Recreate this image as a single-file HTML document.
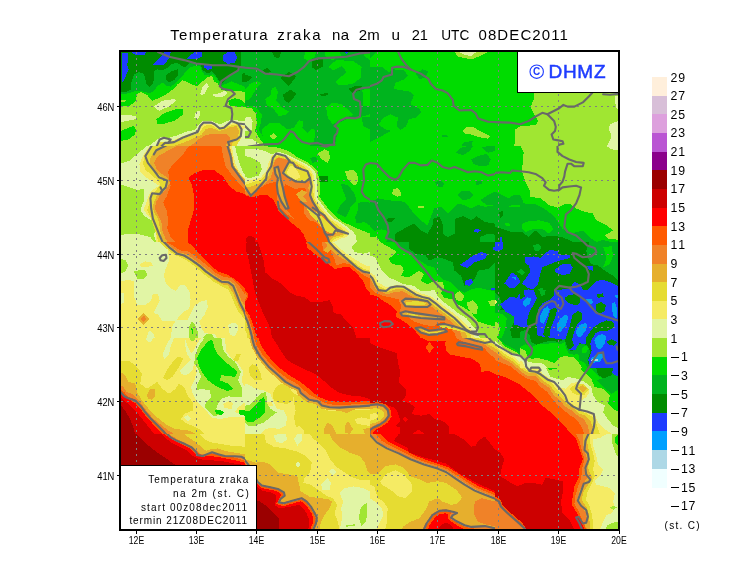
<!DOCTYPE html>
<html><head><meta charset="utf-8"><title>Temperatura zraka na 2m</title>
<style>
html,body{margin:0;padding:0;background:#fff;}
body{width:740px;height:582px;overflow:hidden;font-family:"Liberation Sans",sans-serif;}
svg{display:block;}
text{font-family:"Liberation Sans",sans-serif;fill:#000;}
</style></head><body>
<svg width="740" height="582" viewBox="0 0 740 582">
<rect x="0" y="0" width="740" height="582" fill="#fff"/>
<g shape-rendering="crispEdges">
<clipPath id="c0_0"><rect x="120" y="50" width="125" height="96"/></clipPath>
<g clip-path="url(#c0_0)">
<rect x="120" y="50" width="125" height="96" fill="#008c00"/>
<polygon points="121.7,52.7 128.1,52.7 128.1,60.1 127.1,65.2 128.6,69.4 124.4,79.2 121.7,83.8" fill="#1e3cff"/>
<polygon points="130.8,52.0 146.0,52.0 144.8,54.9 136.2,55.4" fill="#1e3cff"/>
<polygon points="153.4,64.5 160.5,56.8 164.3,52.0 170.7,52.0 170.0,56.8 164.3,64.5" fill="#1e3cff"/>
<polygon points="186.7,58.6 194.3,52.0 201.9,52.0 201.9,56.8 196.0,59.3" fill="#1e3cff"/>
<polygon points="203.6,64.4 211.2,65.2 212.1,68.6 207.8,69.9 204.5,67.7" fill="#1e3cff"/>
<polygon points="223.0,55.1 228.1,52.0 234.9,52.5 237.4,57.6 234.9,62.7 228.1,63.9 223.4,61.0" fill="#1e3cff"/>
<polygon points="120.0,92.2 126.4,91.6 130.8,90.0 131.3,82.4 134.0,74.8 138.4,72.1 143.3,73.3 145.3,78.0 146.0,83.4 149.2,86.8 153.4,83.4 154.1,71.6 156.8,69.4 163.2,69.9 167.6,67.9 171.9,64.0 177.3,62.5 181.7,66.2 184.9,67.2 189.3,63.0 193.5,61.8 200.1,64.0 202.8,70.3 207.8,73.6 212.1,71.1 215.4,75.3 219.7,81.2 221.4,84.6 229.8,76.2 238.2,70.6 240.9,66.9 241.3,52.0 245.0,52.0 245.0,145.9 120.0,145.9" fill="#00b41e"/>
<polygon points="242.0,73.6 245.0,73.1 245.0,82.1 242.0,82.1" fill="#008c00"/>
<polygon points="166.5,74.8 171.9,71.1 177.8,69.4 178.4,74.8 174.1,80.2 168.6,82.4 165.9,79.2" fill="#008c00"/>
<polygon points="120.0,94.3 129.8,93.2 135.2,91.0 144.8,91.6 149.2,93.2 153.4,91.6 156.8,86.8 162.2,82.4 166.5,85.6 170.8,86.8 176.2,82.4 181.7,77.0 185.9,71.6 189.3,67.9 193.5,66.2 200.1,65.5 201.9,71.1 204.5,74.5 209.5,75.7 212.9,74.0 216.3,77.9 219.7,82.9 221.4,85.8 231.5,81.4 241.3,85.3 245.0,87.2 245.0,145.9 120.0,145.9" fill="#00dc00"/>
<polygon points="120.0,106.6 130.1,105.7 136.0,100.7 136.9,93.9 141.1,92.2 147.0,94.8 152.1,100.7 158.9,98.1 165.6,94.8 172.4,89.7 177.4,84.6 182.5,80.4 187.6,82.1 192.6,84.6 196.9,86.3 202.8,81.2 207.8,77.0 212.1,76.2 213.8,81.2 218.0,83.8 221.4,89.7 228.1,91.4 236.6,90.5 245.0,92.2 245.0,145.9 120.0,145.9" fill="#a0e632"/>
<polygon points="120.0,99.8 127.6,99.5 125.1,101.5 120.0,102.0" fill="#a0e632"/>
<polygon points="156.3,119.3 163.9,113.3 175.7,109.1 183.3,109.1 182.5,115.0 174.1,120.9 162.2,124.3 157.2,123.5" fill="#00dc00"/>
<polygon points="120.0,131.1 126.8,128.5 133.5,126.0 136.0,129.4 135.2,134.5 128.4,139.5 120.0,141.2" fill="#00dc00"/>
<polygon points="228.1,100.7 234.9,98.1 241.6,99.8 245.0,104.1 245.0,107.4 238.2,106.6 229.8,105.7" fill="#00dc00"/>
<polygon points="153.8,106.6 162.2,100.7 174.1,99.0 175.7,100.7 169.0,106.6 158.9,110.8" fill="#e1f5a5"/>
<polygon points="200.2,93.9 202.8,86.3 207.0,82.9 208.7,86.3 204.5,93.9 201.1,95.6" fill="#e1f5a5"/>
<polygon points="212.1,94.8 219.7,93.1 225.6,90.5 227.3,93.9 221.4,97.3 214.6,96.5" fill="#e1f5a5"/>
<polygon points="194.3,117.6 196.0,111.7 200.2,110.8 199.4,116.7 196.9,119.3" fill="#e1f5a5"/>
<polygon points="120.0,115.0 130.1,115.0 136.9,116.7 135.2,119.3 126.8,120.9 120.0,122.6" fill="#e1f5a5"/>
<polygon points="148.7,145.9 153.8,142.1 160.5,137.0 169.0,137.8 177.4,135.3 187.6,131.1 194.3,130.2 199.4,124.3 202.8,120.9 211.2,120.9 219.7,124.3 229.8,120.1 245.0,120.9 245.0,145.9" fill="#e1f5a5"/>
<polygon points="156.3,145.9 162.2,142.1 170.7,141.2 180.8,137.0 190.9,133.6 197.7,131.1 201.1,126.0 204.5,123.5 211.2,123.5 218.8,127.7 228.1,124.3 236.6,122.6 242.5,126.0 245.0,126.0 245.0,145.9" fill="#f5eb64"/>
<polygon points="156.3,145.9 160.5,142.1 169.0,143.2 175.7,142.1 184.2,138.2 192.6,135.3 199.4,132.8 202.8,127.7 206.1,125.2 211.2,125.2 218.8,129.4 228.1,126.0 236.6,124.3 241.6,129.4 240.8,137.8 238.2,145.9" fill="#e6dc32"/>
<polygon points="174.1,145.9 182.5,142.9 189.3,140.4 196.0,137.0 201.1,135.3 205.3,129.4 211.2,127.7 219.7,131.1 229.8,127.4 236.6,126.0 239.1,131.1 238.2,136.1 233.2,141.2 231.5,145.9" fill="#e6af2d"/>
<polygon points="190.6,145.9 198.5,139.5 206.1,134.8 216.3,133.6 227.3,134.5 230.6,137.8 225.6,145.9" fill="#f08228"/>
<polygon points="242.0,129.4 245.0,127.7 245.0,145.9 236.6,145.9 241.1,137.8" fill="#e1f5a5"/>
</g>
<clipPath id="c0_1"><rect x="120" y="146" width="125" height="96"/></clipPath>
<g clip-path="url(#c0_1)">
<rect x="120" y="146" width="125" height="96" fill="#a0e632"/>
<polygon points="147.0,146.0 138.6,152.8 130.1,160.4 120.0,163.7 120.0,184.0 130.1,187.4 136.9,189.9 143.6,189.1 143.6,201.7 140.3,210.2 145.3,216.9 152.1,220.3 155.5,228.8 153.8,235.5 156.3,241.9 245.0,241.9 245.0,146.0" fill="#e1f5a5"/>
<polygon points="149.6,146.0 143.6,154.4 139.4,164.6 140.3,171.3 147.0,178.1 153.8,182.3 158.9,185.7 153.8,189.1 149.6,193.3 145.3,205.1 143.6,210.2 147.9,215.3 151.2,218.6 155.5,230.5 156.3,241.9 245.0,241.9 245.0,146.0" fill="#f5eb64"/>
<polygon points="151.2,146.0 145.3,155.3 142.8,162.9 145.3,169.6 152.1,175.6 157.2,179.8 160.5,184.9 156.3,189.9 151.2,195.0 149.6,203.4 147.0,210.2 150.4,216.9 153.8,227.1 157.2,237.2 158.0,241.9 245.0,241.9 245.0,146.0" fill="#e6dc32"/>
<polygon points="162.2,146.0 156.3,151.1 150.7,157.1 149.7,162.9 152.9,168.8 157.2,173.4 163.9,178.9 167.3,183.2 162.2,189.9 156.3,196.7 152.9,205.1 153.8,211.9 158.0,218.6 159.7,227.1 161.4,237.2 163.9,241.9 245.0,241.9 245.0,146.0" fill="#e6af2d"/>
<polygon points="177.1,146.0 165.6,151.9 156.8,157.1 154.1,162.9 156.5,168.8 160.2,173.0 167.3,177.2 169.8,183.2 165.6,189.9 159.7,195.8 156.3,201.7 154.6,208.5 158.0,215.3 161.4,222.0 162.2,230.5 165.6,238.9 167.3,241.9 245.0,241.9 245.0,146.0" fill="#f08228"/>
<polygon points="188.9,146.0 184.2,152.8 180.0,157.8 172.7,164.6 168.1,171.3 169.0,178.1 170.7,185.7 166.5,196.7 163.1,202.6 166.5,210.2 168.1,218.6 167.3,228.8 170.7,237.2 175.7,241.9 245.0,241.9 245.0,189.9 238.2,182.3 231.5,174.7 225.6,166.3 223.0,156.1 221.4,146.0" fill="#ff5a00"/>
<polygon points="188.4,241.9 187.6,230.5 190.9,220.3 194.3,208.5 194.3,196.7 191.8,184.9 188.4,178.1 194.3,173.0 204.5,169.6 214.6,170.5 223.0,176.4 229.8,186.5 236.6,191.6 245.0,194.1 245.0,241.9" fill="#ff0000"/>
<polygon points="120.0,234.7 136.9,233.8 150.4,237.2 153.8,241.9 120.0,241.9" fill="#e1f5a5"/>
<polygon points="227.3,146.0 229.8,156.1 231.5,165.4 237.4,173.9 243.3,181.5 245.0,183.5 245.0,146.0" fill="#e6af2d"/>
<polygon points="229.8,146.0 232.3,156.1 234.0,165.4 239.9,173.9 245.0,179.8 245.0,146.0" fill="#f5eb64"/>
<polygon points="231.8,146.0 233.5,156.1 236.0,165.4 241.1,173.9 245.0,178.9 245.0,146.0" fill="#e1f5a5"/>
<polygon points="235.2,146.0 236.9,154.4 239.4,162.9 242.8,171.3 245.0,175.1 245.0,146.0" fill="#a0e632"/>
</g>
<clipPath id="c0_2"><rect x="120" y="242" width="125" height="96"/></clipPath>
<g clip-path="url(#c0_2)">
<rect x="120" y="242" width="125" height="96" fill="#f5eb64"/>
<polygon points="120.0,242.0 163.1,242.0 168.1,250.4 169.0,260.6 165.6,269.0 163.9,275.8 165.6,282.5 170.7,288.5 175.7,291.0 180.0,285.1 185.0,285.1 189.3,291.0 190.6,299.4 189.3,308.7 184.2,311.3 179.1,316.3 175.7,321.4 170.7,321.4 162.2,320.5 158.0,314.6 153.8,312.9 156.3,307.0 159.7,301.1 158.0,294.4 152.9,293.5 151.2,300.3 145.3,305.3 137.7,305.3 134.4,297.7 133.5,280.9 127.6,280.0 120.0,281.7" fill="#e1f5a5"/>
<polygon points="170.7,337.9 172.4,326.5 175.7,320.5 187.6,319.7 194.3,306.2 201.1,301.1 207.0,300.3 207.8,307.0 204.5,314.6 199.4,321.4 201.1,327.3 204.5,333.2 214.6,334.1 217.1,337.9" fill="#e1f5a5"/>
<polygon points="228.1,324.8 232.3,322.7 237.4,323.9 238.2,329.8 234.9,336.6 229.8,334.9" fill="#e1f5a5"/>
<polygon points="147.0,337.9 147.9,332.4 150.4,330.7 153.8,334.1 154.6,337.9" fill="#e1f5a5"/>
<polygon points="120.0,292.7 124.2,293.5 124.2,302.8 120.0,304.5" fill="#e1f5a5"/>
<polygon points="139.4,264.0 145.3,261.4 151.2,262.3 152.9,265.6 147.0,267.0 141.1,266.5" fill="#f5eb64"/>
<polygon points="176.6,276.6 181.7,275.8 180.8,282.5" fill="#f5eb64"/>
<polygon points="120.0,258.0 125.9,260.6 128.4,265.6 125.1,271.6 120.0,274.1" fill="#a0e632"/>
<polygon points="133.5,271.6 140.3,269.9 146.2,270.7 147.0,275.8 143.6,279.2 137.7,279.2" fill="#a0e632"/>
<polygon points="189.3,326.5 191.8,321.4 195.2,324.8 197.7,331.5 198.5,337.9 189.3,337.9" fill="#a0e632"/>
<polygon points="202.8,337.9 206.1,334.1 212.1,334.1 213.8,337.9" fill="#a0e632"/>
<polygon points="190.9,328.1 193.5,329.0 192.6,334.1" fill="#00dc00"/>
<polygon points="137.7,318.9 143.6,312.9 149.6,318.9 143.6,324.8" fill="#e6af2d"/>
<polygon points="140.3,318.9 143.6,315.5 146.7,318.9 143.6,322.2" fill="#f08228"/>
<polygon points="159.7,242.0 165.6,247.9 174.1,254.7 182.5,258.0 190.9,263.1 197.7,269.0 206.1,275.8 214.6,282.5 223.0,286.8 228.1,289.3 231.5,296.1 234.9,304.5 238.2,311.3 245.0,319.7 245.0,242.0" fill="#e6dc32"/>
<polygon points="162.2,242.0 168.1,247.4 176.6,254.2 184.2,256.9 191.8,261.4 199.4,267.3 207.0,273.8 214.6,280.0 222.2,284.2 228.1,285.6 232.3,291.8 235.7,299.4 239.1,307.0 245.0,316.3 245.0,242.0" fill="#e6af2d"/>
<polygon points="164.3,242.0 170.7,246.2 178.3,252.5 185.9,253.8 192.6,258.0 200.2,264.0 207.8,269.9 215.4,275.8 221.4,279.5 229.0,280.5 234.9,284.2 238.2,292.7 241.6,301.1 245.0,306.2 245.0,242.0" fill="#f08228"/>
<polygon points="166.5,242.0 172.4,245.4 180.0,250.4 187.6,251.3 194.3,255.5 201.1,260.6 209.5,267.3 216.3,273.2 223.0,276.6 231.5,278.3 238.2,284.2 242.5,291.0 245.0,294.4 245.0,242.0" fill="#ff5a00"/>
<polygon points="187.6,242.0 192.6,246.2 197.7,252.1 204.5,258.9 211.2,265.6 218.0,271.6 226.4,274.1 234.9,279.2 241.6,285.1 245.0,288.5 245.0,242.0" fill="#ff0000"/>
</g>
<clipPath id="c0_3"><rect x="120" y="338" width="125" height="96"/></clipPath>
<g clip-path="url(#c0_3)">
<rect x="120" y="338" width="125" height="96" fill="#f5eb64"/>
<polygon points="120.0,361.6 128.4,360.8 135.2,365.0 142.0,373.5 140.3,383.6 147.0,388.7 157.2,381.9 162.2,388.7 169.0,393.7 175.7,388.7 179.1,383.6 184.2,387.0 187.6,395.4 192.6,402.2 192.6,410.6 184.2,414.0 180.8,419.1 187.6,424.1 192.6,425.8 199.4,429.2 204.5,433.9 120.0,433.9" fill="#e6dc32"/>
<polygon points="163.1,377.7 169.0,366.7 177.4,356.6 183.3,358.3 179.1,366.7 172.4,376.9 167.3,380.2" fill="#e6dc32"/>
<polygon points="233.2,360.0 236.6,354.0 240.8,354.0 238.2,360.8 234.9,361.6" fill="#e6dc32"/>
<polygon points="120.0,371.8 125.1,375.2 128.4,381.9 135.2,383.6 136.9,392.1 142.0,400.5 148.7,408.9 157.2,417.4 165.6,424.1 175.7,429.2 187.6,430.1 196.0,433.9 120.0,433.9" fill="#e6af2d"/>
<polygon points="147.0,395.4 150.4,388.7 154.6,388.7 155.5,395.4 152.1,399.7 147.9,398.8" fill="#e6af2d"/>
<polygon points="120.0,384.5 123.4,387.0 126.8,392.1 133.5,394.6 140.3,402.2 147.0,411.5 153.8,419.1 162.2,425.8 169.0,430.9 174.1,433.9 120.0,433.9" fill="#f08228"/>
<polygon points="120.0,388.7 124.2,392.1 127.6,396.3 135.2,399.7 142.0,407.3 148.7,415.7 155.5,422.5 163.9,430.1 167.3,433.9 120.0,433.9" fill="#ff5a00"/>
<polygon points="120.0,392.1 123.4,396.3 127.6,398.8 135.2,403.0 140.3,408.9 147.0,417.4 153.8,425.0 161.4,432.6 162.2,433.9 120.0,433.9" fill="#ff0000"/>
<polygon points="120.0,396.3 125.1,401.3 130.1,405.6 136.9,412.3 143.6,420.8 150.4,429.2 153.8,433.9 120.0,433.9" fill="#cd0000"/>
<polygon points="120.0,403.9 125.1,410.6 129.3,417.4 132.7,425.8 135.2,433.9 120.0,433.9" fill="#9b0000"/>
<polygon points="145.3,338.0 152.9,338.0 151.2,342.2 147.0,341.4" fill="#e1f5a5"/>
<polygon points="163.1,353.2 167.3,343.1 170.7,338.0 174.1,338.0 170.7,346.4 169.0,354.9 163.9,360.0" fill="#e1f5a5"/>
<polygon points="180.0,370.9 185.9,365.0 190.9,360.0 194.3,361.6 192.6,370.1 186.7,375.2 181.7,374.3" fill="#e1f5a5"/>
<polygon points="184.2,417.4 187.6,414.9 190.9,418.2 187.6,421.6" fill="#e1f5a5"/>
<polygon points="185.0,338.0 187.6,346.4 190.9,353.2 194.3,349.8 197.7,343.1 201.1,338.0 224.7,338.0 226.4,351.5 231.5,358.3 238.2,363.3 243.3,371.8 241.6,381.9 245.0,387.0 245.0,402.2 238.2,407.3 234.9,412.3 245.0,414.0 245.0,417.4 228.1,417.4 219.7,419.1 211.2,417.4 206.1,410.6 201.1,405.6 196.0,400.5 192.6,393.7 190.9,387.0 194.3,380.2 196.9,371.8 195.2,365.0 190.9,360.0 186.7,353.2 185.0,344.8" fill="#e1f5a5"/>
<polygon points="190.1,338.0 195.2,338.0 194.3,340.5 190.9,341.4" fill="#a0e632"/>
<polygon points="199.4,344.8 204.5,338.0 221.4,338.0 223.0,349.8 228.1,356.6 234.9,361.6 240.8,371.8 238.2,380.2 242.5,388.7 241.6,397.1 234.9,397.1 228.1,396.3 221.4,398.8 218.0,403.9 216.3,408.9 221.4,414.0 214.6,416.5 209.5,412.3 204.5,407.3 206.1,402.2 211.2,397.1 209.5,390.4 201.1,388.7 196.0,390.4 197.7,383.6 201.1,376.9 198.5,370.1 194.3,363.3 195.2,354.9" fill="#a0e632"/>
<polygon points="196.9,358.3 201.1,349.8 207.8,341.4 212.1,339.7 214.6,348.1 218.0,354.9 224.7,361.6 231.5,366.7 237.4,371.8 234.9,376.9 228.1,376.0 221.4,375.2 219.7,380.2 228.1,383.6 233.2,388.7 228.1,391.2 221.4,388.7 214.6,385.3 207.8,380.2 202.8,373.5 199.4,366.7" fill="#00dc00"/>
<polygon points="214.6,410.6 219.7,409.8 224.7,412.3 221.4,414.9 216.3,414.0" fill="#00dc00"/>
<polygon points="238.2,410.6 245.0,409.8 245.0,415.7 239.9,414.9" fill="#00dc00"/>
<polygon points="223.0,403.9 228.1,401.3 233.2,403.0 231.5,408.9 224.7,408.1" fill="#f5eb64"/>
</g>
<clipPath id="c0_4"><rect x="120" y="434" width="125" height="96"/></clipPath>
<g clip-path="url(#c0_4)">
<rect x="120" y="434" width="125" height="96" fill="#9b0000"/>
<polygon points="136.9,434.0 142.0,439.1 148.7,445.8 157.2,452.6 167.3,459.3 175.7,465.2 175.7,529.9 245.0,529.9 245.0,434.0" fill="#cd0000"/>
<polygon points="161.4,434.0 165.6,438.2 172.4,443.3 180.8,447.5 187.6,450.9 192.6,456.0 199.4,459.3 209.5,460.2 221.4,461.0 234.9,463.6 245.0,465.2 245.0,434.0" fill="#ff0000"/>
<polygon points="163.9,434.0 169.0,437.4 175.7,441.6 183.3,445.0 190.1,448.4 195.2,453.4 201.1,456.8 211.2,456.0 221.4,457.6 234.9,460.2 245.0,462.7 245.0,434.0" fill="#ff5a00"/>
<polygon points="165.6,434.0 170.7,436.5 177.4,440.4 185.0,443.8 191.8,447.2 196.9,452.2 201.9,455.1 211.2,453.4 221.4,455.6 234.9,457.6 245.0,461.0 245.0,434.0" fill="#f08228"/>
<polygon points="169.0,434.0 175.7,438.2 184.2,442.4 190.9,445.8 196.0,450.0 200.2,453.9 206.1,454.6 212.1,451.7 221.4,454.3 228.1,456.0 238.2,456.0 245.0,458.5 245.0,434.0" fill="#e6af2d"/>
<polygon points="184.2,434.0 190.9,439.1 196.0,442.4 201.1,446.7 206.1,450.9 211.2,449.2 218.0,448.4 224.7,450.9 234.9,452.6 245.0,454.3 245.0,434.0" fill="#e6dc32"/>
<polygon points="199.4,434.0 204.5,439.1 211.2,442.4 221.4,444.1 231.5,445.8 245.0,446.7 245.0,434.0" fill="#f5eb64"/>
</g>
<clipPath id="c1_0"><rect x="245" y="50" width="125" height="96"/></clipPath>
<g clip-path="url(#c1_0)">
<rect x="245" y="50" width="125" height="96" fill="#00b41e"/>
<polygon points="245.0,74.5 252.6,77.0 248.4,81.2 245.0,82.1" fill="#008c00"/>
<polygon points="272.0,52.0 281.3,52.0 278.8,58.4 274.6,56.8" fill="#008c00"/>
<polygon points="280.5,77.9 288.9,72.0 296.5,76.2 288.9,86.3" fill="#008c00"/>
<polygon points="283.0,94.8 290.6,89.7 296.5,93.9 288.9,103.2 284.7,100.7" fill="#008c00"/>
<polygon points="311.7,59.3 322.7,58.4 322.7,66.9 315.9,70.3 311.7,66.9" fill="#008c00"/>
<polygon points="262.7,70.3 267.0,67.7 271.2,72.0 265.3,73.6" fill="#008c00"/>
<polygon points="348.0,88.9 354.8,86.3 361.6,86.3 359.9,90.5 353.1,93.1" fill="#008c00"/>
<polygon points="320.2,93.9 327.8,93.1 328.6,95.3 321.0,95.9" fill="#008c00"/>
<polygon points="305.0,52.0 315.9,52.0 315.1,56.8 308.3,61.0 304.1,58.4" fill="#00dc00"/>
<polygon points="324.4,52.0 339.6,52.0 341.3,55.1 332.8,60.1 326.1,57.6" fill="#00dc00"/>
<polygon points="328.6,66.9 336.2,60.1 353.1,61.0 361.6,66.9 360.7,77.9 353.1,83.8 339.6,85.5 335.4,82.1 346.4,72.0 342.1,66.0 332.8,70.3" fill="#00dc00"/>
<polygon points="363.2,52.0 370.0,52.0 370.0,60.1 364.9,56.8" fill="#00dc00"/>
<polygon points="245.0,89.7 250.1,83.8 256.8,81.2 261.0,82.9 255.1,90.5 250.1,99.0 245.0,100.7" fill="#00dc00"/>
<polygon points="265.3,99.0 270.3,95.6 272.0,88.0 275.4,87.2 277.9,92.2 276.2,100.7 282.2,107.4 288.9,111.7 285.5,115.0 278.8,115.9 273.7,109.1 267.0,105.7" fill="#00dc00"/>
<polygon points="245.0,105.7 255.1,106.6 261.9,114.2 261.0,122.6 258.5,129.4 263.6,137.8 268.6,145.9 245.0,145.9" fill="#00dc00"/>
<polygon points="245.0,107.4 251.8,108.3 256.0,114.2 256.8,124.3 255.1,131.1 260.2,139.5 265.3,145.9 245.0,145.9" fill="#a0e632"/>
<polygon points="245.0,117.6 250.1,116.7 252.6,120.9 251.8,129.4 248.4,131.1 245.0,131.1" fill="#e1f5a5"/>
<polygon points="245.0,139.5 251.8,138.7 256.8,142.1 261.9,145.9 245.0,145.9" fill="#e1f5a5"/>
<polygon points="261.9,129.4 270.3,122.6 278.8,122.6 287.2,129.4 294.0,127.7 299.1,120.1 303.3,121.8 302.4,127.7 307.5,132.8 312.6,128.5 315.1,131.1 314.3,141.2 309.2,145.9 263.6,145.9" fill="#00dc00"/>
<polygon points="326.1,107.4 332.8,102.4 341.3,104.1 346.4,108.3 353.1,115.0 346.4,117.6 339.6,120.1 332.8,124.3 327.8,117.6" fill="#00dc00"/>
<polygon points="336.2,124.3 346.4,119.3 354.8,117.6 361.6,116.7 370.0,114.2 370.0,145.9 334.5,145.9 337.9,131.1" fill="#00dc00"/>
<polygon points="361.6,117.6 370.0,116.7 370.0,129.4 363.2,126.0" fill="#00b41e"/>
<polygon points="362.4,89.7 370.0,88.9 370.0,105.7 363.2,105.7" fill="#00dc00"/>
<polygon points="269.5,136.1 273.7,132.8 277.1,136.1 273.7,139.5" fill="#a0e632"/>
<polygon points="345.0,52.0 348.4,52.0 346.7,54.7" fill="#1e3cff"/>
</g>
<clipPath id="c1_1"><rect x="245" y="146" width="125" height="96"/></clipPath>
<g clip-path="url(#c1_1)">
<rect x="245" y="146" width="125" height="96" fill="#00dc00"/>
<polygon points="340.9,183.7 347.9,185.0 355.3,194.6 356.0,201.6 350.6,207.0 347.9,213.9 345.0,217.3 336.9,212.6 340.3,205.6 346.5,199.5 343.0,190.6" fill="#00b41e"/>
<polygon points="357.5,202.9 364.3,201.6 371.2,202.9 375.2,205.6 376.6,209.9 382.8,213.9 384.9,220.8 386.9,227.6 386.2,230.5 380.8,229.1 373.9,230.5 371.2,226.2 364.3,222.2 356.0,223.5 355.3,216.6 358.2,209.9" fill="#00b41e"/>
<polygon points="319.3,176.4 327.8,176.4 327.8,182.3 320.2,182.3" fill="#008c00"/>
<polygon points="310.0,157.8 315.9,157.0 317.6,161.2 312.6,162.9" fill="#00b41e"/>
<polygon points="317.6,153.6 324.4,149.4 328.6,151.1 330.3,157.8 327.8,162.9 321.9,159.5" fill="#a0e632"/>
<polygon points="344.7,171.3 353.1,169.6 357.3,173.9 358.2,181.5 354.8,185.7 348.0,179.8" fill="#a0e632"/>
<polygon points="245.0,146.0 263.6,146.0 278.8,147.7 288.9,151.1 295.7,156.1 305.8,161.2 312.6,166.3 317.6,171.3 319.3,179.8 320.2,189.9 319.3,196.7 324.4,203.4 329.5,210.2 336.2,216.9 343.0,222.0 349.7,225.4 354.8,230.5 356.5,237.2 357.3,241.9 245.0,241.9" fill="#a0e632"/>
<polygon points="245.0,149.4 255.1,148.5 265.3,151.1 272.0,154.4 278.8,151.9 287.2,154.4 295.7,158.7 304.1,162.9 310.9,167.1 315.9,173.0 316.8,181.5 317.6,191.6 317.6,198.4 322.7,205.1 327.8,211.9 334.5,218.6 341.3,222.9 348.0,227.1 353.1,232.1 354.0,241.9 245.0,241.9" fill="#e1f5a5"/>
<polygon points="245.0,156.1 251.8,157.8 260.2,162.9 261.9,169.6 258.5,175.6 250.1,178.1 245.0,177.2" fill="#a0e632"/>
<polygon points="346.4,222.9 353.1,226.7 363.2,231.0 370.0,233.5 370.0,241.9 353.1,241.9" fill="#a0e632"/>
<polygon points="346.4,227.1 353.1,231.3 355.6,235.5 356.8,241.9 326.1,241.9 326.1,237.2" fill="#e1f5a5"/>
<polygon points="245.0,182.3 251.8,179.8 260.2,178.1 266.1,171.3 268.6,162.9 272.0,155.3 278.8,153.6 287.2,156.1 295.7,160.4 304.1,164.6 310.0,168.8 313.4,173.9 314.3,181.5 315.1,191.6 315.6,198.4 320.2,205.1 326.1,212.7 332.8,219.5 339.6,223.7 346.4,228.8 349.7,233.0 346.4,237.2 339.6,238.9 334.5,241.9 245.0,241.9" fill="#f5eb64"/>
<polygon points="245.0,184.9 252.6,182.3 261.0,179.8 267.8,173.0 270.3,163.7 273.7,157.0 278.8,155.3 287.2,157.8 295.7,162.0 303.3,166.3 308.3,170.5 311.7,174.7 312.6,181.5 313.4,191.6 313.9,198.4 318.5,206.0 324.4,213.6 331.1,220.3 337.9,225.4 344.7,230.5 347.2,233.8 343.0,236.4 336.2,238.1 331.1,241.9 245.0,241.9" fill="#e6dc32"/>
<polygon points="245.0,188.2 253.4,185.7 261.9,182.3 268.6,175.6 272.0,164.6 275.4,158.7 278.8,157.0 287.2,159.5 294.0,162.9 301.6,168.0 306.7,172.2 310.0,176.4 310.9,182.3 310.0,188.2 311.7,196.7 315.9,205.1 321.9,213.6 328.6,221.2 335.4,227.1 341.3,232.1 343.8,234.2 339.6,235.5 332.8,237.2 329.5,241.9 245.0,241.9" fill="#e6af2d"/>
<polygon points="245.0,190.3 251.8,193.6 257.7,188.2 264.4,184.0 270.3,178.1 272.9,171.3 273.7,162.9 277.1,157.8 283.9,158.7 290.6,162.0 299.1,166.3 305.8,171.3 309.2,176.4 310.0,182.3 308.3,188.2 310.9,196.7 315.1,204.3 321.0,212.7 327.8,220.3 334.5,227.9 338.8,232.1 334.5,234.7 329.5,237.2 327.8,241.9 245.0,241.9" fill="#f08228"/>
<polygon points="245.0,194.1 251.8,196.7 258.5,189.1 267.0,184.0 276.2,181.5 277.9,188.2 277.1,198.4 280.5,207.7 287.2,214.4 295.7,220.3 304.1,225.4 312.6,230.5 321.0,237.2 324.4,241.9 245.0,241.9" fill="#ff5a00"/>
<polygon points="284.7,184.0 295.7,189.1 303.3,187.4 306.7,190.3 301.6,195.0 299.9,200.1 304.1,204.3 304.1,213.6 309.2,220.3 315.9,222.0 324.4,230.5 328.6,237.2 329.5,241.9 309.2,241.9 300.7,225.4 292.3,216.9 287.2,210.2 285.5,201.7 283.9,193.3" fill="#ff5a00"/>
<polygon points="245.0,195.0 251.8,197.5 260.2,195.0 267.0,195.0 273.7,200.1 277.1,206.8 278.8,211.9 285.5,216.9 290.6,222.0 299.1,228.8 303.3,233.8 306.7,241.9 245.0,241.9" fill="#ff0000"/>
<polygon points="245.8,241.9 246.4,238.1 249.2,235.9 253.4,236.9 255.5,239.8 255.1,241.9" fill="#cd0000"/>
<polygon points="274.6,168.0 277.9,167.1 279.6,173.0 281.3,179.8 283.0,188.2 284.7,196.7 287.2,204.3 288.1,207.7 285.5,208.5 281.3,201.7 277.9,193.3 277.1,184.9 277.9,178.1 275.4,173.9" fill="#e6af2d"/>
<polygon points="283.0,173.0 288.9,162.9 293.1,163.7 300.7,168.0 306.7,171.3 309.2,177.2 304.1,182.3 295.7,181.5 288.1,177.2" fill="#e6dc32"/>
<polygon points="286.4,173.0 290.6,165.4 294.8,167.1 297.4,171.3 300.7,177.2 295.7,179.8 289.8,176.4" fill="#f5eb64"/>
<polygon points="295.7,194.1 302.4,189.9 306.7,192.5 303.3,196.7 307.5,201.7 302.4,201.7 299.1,198.4" fill="#e6af2d"/>
<polygon points="305.8,206.8 315.9,211.9 324.4,218.6 332.8,227.1 337.9,232.1 332.8,233.8 324.4,230.5 317.6,222.0 310.9,215.3" fill="#e6dc32"/>
</g>
<clipPath id="c1_2"><rect x="245" y="242" width="125" height="96"/></clipPath>
<g clip-path="url(#c1_2)">
<rect x="245" y="242" width="125" height="96" fill="#ff0000"/>
<polygon points="246.7,242.0 257.7,242.0 260.2,248.8 263.6,260.6 265.3,272.4 272.0,278.3 282.2,284.2 290.6,292.7 297.4,296.1 304.1,296.9 310.9,302.0 321.0,302.0 329.5,300.3 332.8,306.2 333.7,312.9 341.3,314.6 346.4,321.4 353.1,328.1 356.5,337.9 272.0,337.9 270.3,328.1 265.3,318.0 260.2,306.2 255.1,292.7 251.8,275.8 248.4,258.9 245.8,248.8" fill="#cd0000"/>
<polygon points="305.8,242.0 307.5,247.9 315.9,254.7 324.4,260.6 329.5,264.8 334.5,269.0 343.0,267.3 349.7,267.3 356.5,273.2 363.2,280.9 366.6,289.3 370.0,292.7 370.0,242.0" fill="#ff5a00"/>
<polygon points="321.9,242.0 323.5,251.3 326.1,248.8 329.5,245.4 331.1,252.1 334.5,258.9 336.2,265.6 343.0,263.1 349.7,264.0 356.5,269.9 363.2,274.9 370.0,278.3 370.0,242.0" fill="#f08228"/>
<polygon points="324.4,242.0 329.5,247.9 336.2,254.7 343.0,258.9 349.7,263.1 356.5,268.7 363.2,272.4 370.0,274.9 370.0,242.0" fill="#e6af2d"/>
<polygon points="323.5,250.4 327.8,245.4 331.1,249.6 327.8,253.0" fill="#e6af2d"/>
<polygon points="327.8,242.0 333.7,248.4 341.3,255.5 348.9,261.4 355.6,267.0 363.2,271.1 370.0,273.2 370.0,242.0" fill="#e6dc32"/>
<polygon points="330.3,242.0 336.2,247.9 344.7,255.5 350.6,259.7 357.3,264.8 364.1,269.0 370.0,270.7 370.0,242.0" fill="#f5eb64"/>
<polygon points="332.8,242.0 339.6,247.9 346.4,253.8 353.1,258.0 359.9,262.3 366.6,265.6 370.0,266.5 370.0,242.0" fill="#e1f5a5"/>
<polygon points="351.4,247.1 356.5,242.0 370.0,242.0 370.0,252.1 363.2,253.8 354.8,252.1" fill="#a0e632"/>
<polygon points="245.0,290.1 248.0,293.5 247.5,298.6 245.0,302.0" fill="#ff5a00"/>
<polygon points="245.0,292.7 246.7,295.2 246.4,297.7 245.0,299.4" fill="#f08228"/>
<polygon points="245.0,308.7 249.2,314.6 252.6,323.1 255.1,331.5 256.8,337.9 245.0,337.9" fill="#ff5a00"/>
<polygon points="245.0,311.3 248.0,316.3 250.9,324.8 253.4,333.2 254.3,337.9 245.0,337.9" fill="#f08228"/>
<polygon points="245.0,314.6 247.0,318.9 249.2,326.5 251.8,337.9 245.0,337.9" fill="#e6af2d"/>
<polygon points="245.0,318.0 246.7,323.1 248.4,329.8 250.1,337.9 245.0,337.9" fill="#e6dc32"/>
<polygon points="245.0,329.8 246.7,333.2 247.5,337.9 245.0,337.9" fill="#f5eb64"/>
</g>
<clipPath id="c1_3"><rect x="245" y="338" width="125" height="96"/></clipPath>
<g clip-path="url(#c1_3)">
<rect x="245" y="338" width="125" height="96" fill="#f5eb64"/>
<polygon points="248.4,367.6 252.6,364.2 256.8,365.9 261.0,374.3 261.9,380.2 255.1,380.2 250.1,375.2" fill="#e6dc32"/>
<polygon points="272.9,393.7 276.2,387.0 281.3,383.6 287.2,385.3 294.0,393.7 293.1,400.5 287.2,403.9 278.8,403.0 273.7,400.5" fill="#e6dc32"/>
<polygon points="294.0,393.7 300.7,396.3 309.2,402.2 317.6,404.7 322.7,408.9 329.5,411.0 370.0,409.8 370.0,433.9 300.7,433.9 295.7,425.8 294.0,417.4 295.7,410.6 294.0,402.2" fill="#e6dc32"/>
<polygon points="354.8,419.1 361.6,417.4 370.0,419.1 370.0,425.8 363.2,425.0 356.5,423.3" fill="#f5eb64"/>
<polygon points="294.0,429.2 299.1,425.8 304.1,430.1 304.1,433.9 294.0,433.9" fill="#f5eb64"/>
<polygon points="323.5,429.2 327.8,422.5 332.8,425.8 336.2,433.9 324.4,433.9" fill="#e6af2d"/>
<polygon points="344.7,425.8 348.0,420.8 353.1,429.2 349.7,433.9 345.5,432.6" fill="#e6af2d"/>
<polygon points="363.2,429.2 370.0,427.5 370.0,433.9 364.9,433.9" fill="#e6af2d"/>
<polygon points="249.2,338.0 251.8,347.3 257.7,357.9 266.1,368.4 274.6,376.5 283.0,383.9 291.5,388.7 296.5,390.7 298.2,395.4 306.7,402.2 315.9,404.2 321.0,408.6 329.5,410.3 339.6,410.6 346.4,413.2 353.1,409.8 359.9,408.9 370.0,408.9 370.0,338.0" fill="#e6af2d"/>
<polygon points="251.8,338.0 254.3,346.4 260.2,356.6 268.6,366.7 277.1,374.3 285.5,381.9 293.1,386.1 299.1,388.7 300.7,392.9 309.2,399.7 317.6,401.3 321.9,405.6 329.5,407.3 339.6,407.6 349.7,406.9 359.9,406.4 370.0,405.6 370.0,338.0" fill="#f08228"/>
<polygon points="254.3,338.0 256.8,345.6 262.7,354.9 271.2,365.0 279.6,372.6 287.2,378.5 295.7,382.8 302.4,388.7 309.2,394.6 317.6,398.8 324.4,403.0 332.8,404.7 346.4,404.7 359.9,404.2 370.0,403.5 370.0,338.0" fill="#ff5a00"/>
<polygon points="258.5,338.0 261.0,345.6 266.1,353.2 273.7,362.5 282.2,370.1 290.6,376.0 299.1,381.1 305.8,386.1 312.6,392.1 319.3,397.1 327.8,400.5 339.6,402.2 353.1,401.9 363.2,401.3 370.0,401.3 370.0,338.0" fill="#ff0000"/>
<polygon points="272.9,338.0 277.1,344.8 281.3,351.5 287.2,360.0 295.7,365.0 304.1,369.2 312.6,372.6 319.3,376.9 326.1,382.8 332.8,388.7 339.6,392.9 349.7,395.4 359.9,396.3 366.6,398.0 370.0,399.7 370.0,338.0" fill="#cd0000"/>
<polygon points="245.0,383.6 250.1,385.3 255.1,388.7 263.6,390.4 270.3,393.7 273.7,402.2 277.1,408.9 283.9,410.6 287.2,417.4 285.5,425.8 278.8,429.2 272.0,427.5 265.3,429.2 260.2,433.9 245.0,433.9" fill="#e1f5a5"/>
<polygon points="245.0,405.6 250.1,404.7 256.8,397.1 261.9,392.9 266.1,392.1 267.0,400.5 270.3,408.9 277.1,412.3 270.3,417.4 263.6,422.5 255.1,425.8 248.4,425.8 245.0,422.5" fill="#a0e632"/>
<polygon points="245.0,410.6 250.1,410.6 255.1,405.6 260.2,399.7 264.4,396.3 264.9,405.6 265.3,412.3 260.2,417.4 253.4,421.6 247.5,421.6 245.0,419.1" fill="#00dc00"/>
<polygon points="267.0,402.2 272.0,401.3 272.9,405.6 268.6,406.4" fill="#f5eb64"/>
</g>
<clipPath id="c1_4"><rect x="245" y="434" width="125" height="96"/></clipPath>
<g clip-path="url(#c1_4)">
<rect x="245" y="434" width="125" height="96" fill="#e6dc32"/>
<polygon points="264.4,434.0 266.1,442.4 273.7,446.7 285.5,448.4 297.4,451.7 305.8,456.0 311.7,462.7 310.0,472.9 304.1,477.9 303.3,483.0 310.9,484.7 319.3,490.6 326.1,495.7 332.8,498.2 337.1,504.9 334.5,513.4 337.9,521.8 339.6,529.9 370.0,529.9 370.0,479.6 361.6,480.5 351.4,477.1 343.8,472.0 336.2,466.9 330.3,459.3 326.1,450.9 319.3,443.3 312.6,438.2 310.0,434.0" fill="#f5eb64"/>
<polygon points="329.5,434.0 332.8,440.8 339.6,447.5 349.7,452.6 359.9,456.0 364.9,462.7 367.5,471.2 370.0,473.7 370.0,434.0" fill="#e6af2d"/>
<polygon points="255.1,462.7 263.6,461.9 270.3,464.4 278.8,472.9 288.9,474.5 297.4,476.2 299.1,484.7 300.7,491.4 309.2,496.5 319.3,498.2 327.8,499.0 332.0,501.6 329.5,508.3 324.4,515.1 321.0,521.8 319.3,529.9 245.0,529.9 245.0,459.3" fill="#e6af2d"/>
<polygon points="273.7,435.7 278.8,434.0 285.5,434.0 287.2,439.1 282.2,443.3 276.2,441.6" fill="#e1f5a5"/>
<polygon points="294.0,439.1 297.4,434.0 302.4,434.0 301.6,440.8 297.4,445.8" fill="#e1f5a5"/>
<polygon points="295.7,464.4 298.2,461.0 300.7,465.2 298.2,467.8" fill="#e1f5a5"/>
<polygon points="328.6,471.2 332.8,468.6 337.1,472.0 332.8,475.4" fill="#e1f5a5"/>
<polygon points="321.0,484.7 327.8,477.9 331.1,483.0 329.5,489.7 322.7,490.6" fill="#e1f5a5"/>
<polygon points="339.6,493.1 344.7,488.1 353.1,486.4 363.2,488.1 370.0,491.4 370.0,529.9 339.6,529.9 342.1,518.5 341.3,508.3 343.0,501.6" fill="#e1f5a5"/>
<polygon points="359.9,510.0 363.2,504.9 366.6,503.3 367.5,511.7 365.8,521.8 361.6,526.1 359.0,518.5" fill="#a0e632"/>
<polygon points="346.4,524.9 354.8,524.4 354.8,526.1 346.4,526.6" fill="#a0e632"/>
<polygon points="245.0,461.0 250.1,467.8 255.1,477.1 258.5,481.3 262.7,484.7 270.3,486.4 277.9,488.1 284.2,491.8 285.5,495.7 281.3,499.0 280.0,501.6 284.2,502.1 292.3,499.9 301.9,497.3 307.5,500.7 311.7,506.3 315.6,512.5 318.0,517.6 317.3,523.5 314.3,529.9 245.0,529.9" fill="#f08228"/>
<polygon points="245.0,463.6 250.1,471.2 255.1,479.6 257.7,483.0 261.9,486.4 270.3,488.1 277.9,489.7 283.0,493.1 283.5,495.7 279.6,499.0 277.9,503.3 283.9,504.6 292.3,501.9 301.6,499.5 305.8,502.4 310.0,507.5 313.4,513.1 315.6,518.1 314.6,523.5 311.7,529.9 245.0,529.9" fill="#ff5a00"/>
<polygon points="245.0,466.1 255.1,482.1 261.9,488.1 270.3,489.7 277.1,491.4 281.3,494.0 278.8,499.0 276.2,504.1 283.9,506.3 292.3,503.6 300.7,501.2 304.5,503.6 308.3,508.3 311.7,513.4 313.4,518.5 312.6,523.5 310.0,529.9 245.0,529.9" fill="#ff0000"/>
<polygon points="245.0,467.8 255.1,484.7 261.9,490.6 270.3,492.3 275.4,494.8 276.2,499.9 274.6,504.9 278.8,508.3 288.9,507.0 299.1,504.9 303.3,508.3 306.7,513.4 309.2,520.1 308.3,529.9 245.0,529.9" fill="#cd0000"/>
<polygon points="255.1,499.9 260.2,501.6 267.0,506.6 273.7,513.4 278.8,518.5 278.8,529.9 255.1,529.9" fill="#9b0000"/>
</g>
<clipPath id="c2_0"><rect x="370" y="50" width="125" height="96"/></clipPath>
<g clip-path="url(#c2_0)">
<rect x="370" y="50" width="125" height="96" fill="#00dc00"/>
<polygon points="370.0,66.9 381.8,66.9 388.6,72.0 393.6,69.4 403.8,70.3 408.0,75.3 403.8,79.6 395.3,82.9 393.6,88.9 408.9,91.4 413.9,94.8 410.5,104.1 419.0,108.3 421.5,112.5 415.6,117.6 408.9,119.3 406.3,126.0 400.4,130.2 397.0,126.0 397.9,117.6 390.3,114.2 383.5,117.6 378.4,124.3 370.0,124.3" fill="#00b41e"/>
<polygon points="370.0,124.3 378.4,124.3 385.2,129.4 391.1,130.7 380.1,137.0 370.0,142.1" fill="#00b41e"/>
<polygon points="415.6,73.6 422.4,69.4 428.3,71.1 425.7,77.0 419.8,79.6" fill="#00b41e"/>
<polygon points="370.0,52.0 376.8,52.0 370.0,58.4" fill="#00b41e"/>
<polygon points="461.2,145.9 464.6,142.1 473.0,140.9 471.4,145.9" fill="#00b41e"/>
<polygon points="441.8,135.3 446.9,135.0 447.7,136.7 442.6,137.0" fill="#00b41e"/>
<polygon points="454.5,52.0 488.2,52.0 478.1,56.8 471.4,59.3 457.8,56.8" fill="#a0e632"/>
<polygon points="459.5,52.0 476.4,52.0 471.4,55.9 464.6,55.1" fill="#e1f5a5"/>
<polygon points="462.9,131.1 467.1,126.9 473.0,126.9 479.8,131.1 490.8,136.1 488.2,138.7 478.1,137.0 471.4,134.5 464.6,133.6" fill="#a0e632"/>
</g>
<clipPath id="c2_1"><rect x="370" y="146" width="125" height="96"/></clipPath>
<g clip-path="url(#c2_1)">
<rect x="370" y="146" width="125" height="96" fill="#00dc00"/>
<polygon points="370.0,201.7 378.4,198.4 386.9,200.1 403.8,201.7 408.9,206.8 413.9,213.6 420.7,220.3 427.4,225.4 430.8,216.9 434.2,208.5 440.9,206.8 447.7,213.6 452.8,208.5 457.8,203.4 464.6,205.1 471.4,208.5 478.1,205.1 484.9,206.8 495.0,205.1 495.0,241.9 370.0,241.9" fill="#00b41e"/>
<polygon points="370.0,226.7 374.4,230.8 381.3,229.4 386.9,230.8 388.6,237.2 386.0,241.9 370.0,241.9" fill="#00dc00"/>
<polygon points="370.0,237.2 376.8,236.4 380.1,241.9 370.0,241.9" fill="#a0e632"/>
<polygon points="456.1,152.8 461.2,147.7 468.0,146.0 473.0,146.0 469.7,151.1 462.9,155.3" fill="#00b41e"/>
<polygon points="471.4,159.5 478.1,156.1 486.6,153.6 490.8,159.5 488.2,165.4 479.8,166.3 473.0,163.7" fill="#00b41e"/>
<polygon points="481.5,147.7 488.2,146.0 495.0,146.0 495.0,151.1 488.2,152.8" fill="#00b41e"/>
<polygon points="457.0,195.0 462.1,190.8 469.7,190.8 473.0,195.0 469.7,199.2 462.1,200.1" fill="#00b41e"/>
<polygon points="480.6,200.1 488.2,195.0 495.0,191.6 495.0,205.1 486.6,205.1" fill="#00b41e"/>
<polygon points="435.0,182.3 440.1,180.6 444.3,183.2 442.6,187.4 437.6,186.5" fill="#00b41e"/>
<polygon points="475.6,181.5 481.5,180.6 482.3,184.0 476.4,184.9" fill="#00b41e"/>
<polygon points="395.3,233.8 403.8,228.8 413.9,223.7 420.7,230.5 427.4,233.8 432.5,225.4 433.3,218.6 439.3,216.9 442.6,223.7 442.6,233.8 447.7,237.2 454.5,233.8 455.3,218.6 462.9,216.1 471.4,220.3 476.4,216.1 484.9,222.0 495.0,223.7 495.0,241.9 395.3,241.9" fill="#008c00"/>
<polygon points="386.9,218.6 396.2,217.8 392.0,222.0 387.7,222.0" fill="#008c00"/>
<polygon points="479.8,237.2 488.2,233.8 495.0,234.7 495.0,241.9 479.8,241.9" fill="#00b41e"/>
<polygon points="473.9,230.1 478.1,228.4 480.6,230.5 478.1,232.7 474.7,232.1" fill="#1e3cff"/>
<polygon points="392.0,194.1 393.6,189.1 397.9,188.2 400.4,191.6 401.2,195.8 397.0,196.7" fill="#a0e632"/>
<polygon points="418.1,206.0 424.1,206.0 424.1,207.7 418.1,207.7" fill="#a0e632"/>
</g>
<clipPath id="c2_2"><rect x="370" y="242" width="125" height="96"/></clipPath>
<g clip-path="url(#c2_2)">
<rect x="370" y="242" width="125" height="96" fill="#00b41e"/>
<polygon points="408.9,242.0 495.0,242.0 495.0,262.3 488.2,269.0 478.1,270.7 474.7,279.2 464.6,285.9 461.2,275.8 454.5,270.7 452.8,262.3 444.3,258.9 437.6,257.2 429.1,260.6 425.7,255.5 415.6,253.8 408.9,248.8" fill="#008c00"/>
<polygon points="459.5,264.8 466.3,260.6 473.0,255.5 481.5,252.1 487.4,253.8 484.9,258.9 474.7,262.3 467.1,268.2" fill="#1e3cff"/>
<polygon points="465.4,280.9 471.4,278.3 473.0,282.5 469.7,285.9 465.4,285.1" fill="#1e3cff"/>
<polygon points="490.8,288.5 495.0,287.6 495.0,290.1 490.8,290.1" fill="#1e3cff"/>
<polygon points="493.0,247.1 495.0,246.7 495.0,249.6 493.3,249.6" fill="#1e3cff"/>
<polygon points="395.3,242.0 398.7,247.1 405.5,251.3 412.2,254.7 417.3,258.9 422.4,262.3 427.4,265.6 434.2,267.3 437.6,274.1 442.6,279.2 451.1,282.5 457.8,289.3 464.6,292.7 471.4,289.3 478.1,287.6 488.2,290.1 495.0,291.0 495.0,337.9 370.0,337.9 370.0,242.0" fill="#00dc00"/>
<polygon points="370.0,242.0 380.1,242.0 392.0,248.8 397.0,252.1 388.6,258.9 392.0,264.0 402.1,265.6 403.8,270.7 401.2,275.8 408.9,277.5 419.0,270.7 424.1,274.1 420.7,280.9 427.4,284.2 434.2,280.9 442.6,282.5 444.3,287.6 440.9,292.7 444.3,297.7 452.8,299.4 457.8,304.5 464.6,307.9 471.4,312.9 478.1,321.4 488.2,324.8 495.0,326.5 495.0,337.9 370.0,337.9" fill="#a0e632"/>
<polygon points="454.5,294.4 459.5,291.0 464.6,296.1 462.1,301.1 456.1,300.3" fill="#a0e632"/>
<polygon points="466.3,302.8 473.0,300.3 478.1,306.2 476.4,314.6 471.4,312.9 468.0,307.9" fill="#a0e632"/>
<polygon points="488.2,301.1 495.0,299.4 495.0,306.2 490.8,306.2" fill="#a0e632"/>
<polygon points="370.0,255.5 375.1,257.2 378.4,264.0 381.8,270.7 388.6,277.5 397.0,280.9 403.8,284.2 413.9,285.9 420.7,291.0 429.1,291.0 434.2,289.3 437.6,296.1 442.6,301.1 449.4,306.2 457.8,312.9 466.3,318.0 473.0,326.5 478.1,331.5 479.8,337.9 370.0,337.9" fill="#e1f5a5"/>
<polygon points="370.0,272.4 375.1,275.8 378.4,282.5 386.9,287.6 395.3,285.1 403.8,285.6 412.2,289.3 420.7,293.5 430.8,296.1 437.6,301.1 444.3,306.2 451.1,311.3 459.5,318.0 466.3,324.8 471.4,329.8 474.7,337.9 370.0,337.9" fill="#f5eb64"/>
<polygon points="370.0,274.9 374.2,278.3 377.6,285.1 386.9,290.1 395.3,287.3 403.8,287.3 412.2,291.3 420.7,295.7 430.0,298.6 436.7,303.7 443.5,308.7 450.2,313.8 457.8,319.7 464.6,326.5 469.7,332.4 471.4,337.9 370.0,337.9" fill="#e6dc32"/>
<polygon points="370.0,276.6 373.4,280.5 376.8,287.3 386.9,292.3 395.3,289.3 403.8,289.3 411.4,293.5 419.8,297.7 428.3,301.1 435.0,306.2 441.8,311.3 448.5,316.3 456.1,322.2 462.1,328.1 466.3,334.1 467.1,337.9 370.0,337.9" fill="#e6af2d"/>
<polygon points="370.0,278.3 372.5,282.5 375.9,289.3 386.9,294.4 395.3,291.8 402.9,291.3 410.5,295.7 419.0,300.3 427.4,303.7 434.2,308.7 440.9,313.8 447.7,318.9 454.5,324.8 459.5,330.7 462.1,337.9 370.0,337.9" fill="#f08228"/>
<polygon points="370.0,287.6 375.1,292.7 383.5,296.1 392.0,297.7 398.7,299.4 401.2,306.2 399.6,312.9 407.2,316.3 413.9,321.4 424.1,324.8 434.2,326.5 437.6,323.1 444.3,321.4 449.4,326.5 454.5,333.2 456.1,337.9 370.0,337.9" fill="#ff5a00"/>
<polygon points="370.0,294.4 376.8,296.1 383.5,301.1 392.0,306.2 397.0,311.3 395.3,316.3 403.8,321.4 410.5,326.5 415.6,331.5 420.7,337.9 370.0,337.9" fill="#ff0000"/>
<polygon points="402.1,301.1 405.5,298.6 417.3,299.4 427.4,301.1 430.8,304.5 427.4,307.0 415.6,307.0 405.5,306.2" fill="#e6af2d"/>
<polygon points="406.3,302.0 417.3,301.1 426.6,303.1 424.1,305.3 413.9,305.3 406.3,304.5" fill="#e6dc32"/>
<polygon points="400.4,312.9 405.5,311.3 413.9,312.9 425.7,314.6 437.6,316.3 444.3,317.2 444.3,319.4 434.2,318.9 420.7,318.0 408.9,316.3 402.1,315.5" fill="#e6af2d"/>
<polygon points="406.3,313.3 413.9,314.3 420.7,316.3 412.2,316.0" fill="#e6dc32"/>
<polygon points="415.6,328.1 420.7,327.3 429.1,330.7 437.6,329.8 444.3,329.0 446.9,331.5 437.6,334.1 429.1,334.9 420.7,332.4" fill="#e6af2d"/>
<polygon points="420.7,329.5 429.1,332.4 437.6,331.5 442.6,330.7 437.6,332.9 429.1,333.6" fill="#e6dc32"/>
<polygon points="437.6,324.8 444.3,323.9 454.5,326.5 464.6,329.8 471.4,333.2 478.1,334.9 471.4,334.1 461.2,331.5 451.1,329.0 440.9,327.3" fill="#e6dc32"/>
</g>
<clipPath id="c2_3"><rect x="370" y="338" width="125" height="96"/></clipPath>
<g clip-path="url(#c2_3)">
<rect x="370" y="338" width="125" height="96" fill="#ff0000"/>
<polygon points="370.0,343.1 376.8,346.4 386.9,349.8 397.0,353.2 397.9,363.3 400.4,371.8 398.7,381.9 405.5,388.7 406.3,395.4 402.1,400.5 410.5,403.9 414.8,407.3 411.4,414.0 420.7,415.7 429.1,414.0 434.2,419.1 442.6,420.8 448.5,425.8 449.4,433.9 424.1,433.9 419.0,429.2 412.2,433.9 400.4,433.9 399.6,427.5 395.3,425.8 400.4,420.8 397.0,410.6 393.6,407.3 388.6,405.6 383.5,403.9 370.0,403.9" fill="#cd0000"/>
<polygon points="402.1,419.1 405.5,416.5 408.0,419.1 405.5,421.6" fill="#ff0000"/>
<polygon points="445.2,343.1 446.0,350.7 450.2,354.6 462.1,356.9 471.4,358.6 479.8,363.7 481.5,371.8 488.2,370.9 495.0,373.8 495.0,338.0 447.7,338.0" fill="#ff5a00"/>
<polygon points="425.4,347.3 429.5,342.2 433.9,347.3 429.5,352.9" fill="#ff5a00"/>
<polygon points="422.4,338.0 447.7,338.0 446.9,341.4 434.2,340.5 427.4,341.0" fill="#ff5a00"/>
<polygon points="456.1,338.0 464.6,342.2 474.7,344.8 484.9,348.1 488.2,353.2 495.0,358.3 495.0,338.0" fill="#f08228"/>
<polygon points="464.6,338.0 474.7,341.4 484.9,344.8 491.6,349.8 495.0,352.4 495.0,338.0" fill="#e6af2d"/>
<polygon points="471.4,338.0 481.5,341.4 489.9,345.6 495.0,348.1 495.0,338.0" fill="#e6dc32"/>
<polygon points="478.1,338.0 488.2,342.2 495.0,344.8 495.0,338.0" fill="#f5eb64"/>
<polygon points="486.6,338.0 495.0,342.2 495.0,338.0" fill="#a0e632"/>
<polygon points="370.0,403.0 377.6,402.2 385.2,403.9 390.3,408.9 391.6,416.5 387.7,422.5 381.0,427.2 375.1,430.1 372.5,433.9 370.0,433.9" fill="#ff5a00"/>
<polygon points="370.0,404.2 377.1,403.5 383.9,405.1 388.2,409.8 389.4,415.7 386.0,420.8 380.1,425.0 374.2,427.9 370.8,430.9 370.0,432.6" fill="#f08228"/>
<polygon points="370.0,406.4 376.8,405.6 382.7,407.3 386.6,411.5 387.2,415.7 384.4,419.6 378.4,423.3 373.4,425.8 370.0,427.5" fill="#e6af2d"/>
<polygon points="370.0,408.9 375.9,408.1 381.0,409.8 384.4,413.2 384.4,416.5 381.0,419.9 375.9,422.5 370.0,424.1" fill="#e6dc32"/>
<polygon points="370.0,414.0 375.1,413.2 378.4,415.7 375.9,419.1 370.0,420.8" fill="#f5eb64"/>
</g>
<clipPath id="c2_4"><rect x="370" y="434" width="125" height="96"/></clipPath>
<g clip-path="url(#c2_4)">
<rect x="370" y="434" width="125" height="96" fill="#e6af2d"/>
<polygon points="370.0,474.5 378.4,473.7 385.2,466.1 395.3,464.4 403.8,467.8 410.5,476.2 420.7,479.6 427.4,483.0 437.6,481.3 446.0,483.0 456.1,489.7 462.1,497.3 457.8,503.3 451.1,504.9 442.6,501.6 437.6,498.2 429.1,501.6 425.7,510.0 419.0,518.5 410.5,521.8 403.8,526.1 400.4,529.9 370.0,529.9" fill="#e6dc32"/>
<polygon points="380.1,481.3 386.9,473.7 395.3,470.3 403.8,474.5 411.4,483.0 412.2,491.4 405.5,498.2 398.7,496.5 390.3,489.7 381.8,484.7" fill="#f5eb64"/>
<polygon points="370.0,484.7 374.2,486.4 377.6,498.2 383.5,501.6 387.7,508.3 386.9,521.8 385.2,529.9 370.0,529.9" fill="#f5eb64"/>
<polygon points="370.0,498.2 375.1,501.6 381.8,508.3 383.5,515.1 378.4,525.2 376.8,529.9 370.0,529.9" fill="#e1f5a5"/>
<polygon points="474.7,501.6 481.5,498.2 495.0,501.6 495.0,526.1 488.2,525.2 478.1,521.8 473.9,513.4" fill="#f08228"/>
<polygon points="370.0,434.0 377.6,441.6 386.9,447.2 398.7,452.2 410.5,458.0 424.1,463.1 437.6,467.3 446.9,470.8 455.3,476.6 465.4,483.3 475.6,489.4 485.7,493.5 495.0,497.3 495.0,434.0" fill="#f08228"/>
<polygon points="375.1,434.0 381.8,440.8 390.3,445.8 400.4,450.9 412.2,456.8 424.9,461.9 438.4,465.8 447.7,469.5 456.1,474.9 466.3,481.6 476.4,487.7 486.6,491.8 495.0,495.1 495.0,434.0" fill="#ff5a00"/>
<polygon points="380.1,434.0 386.9,440.8 395.3,445.0 403.8,449.2 413.9,455.1 425.7,459.7 439.3,464.1 448.5,467.4 457.8,473.2 468.0,479.9 478.1,486.0 488.2,490.1 495.0,492.8 495.0,434.0" fill="#ff0000"/>
<polygon points="398.7,434.0 393.6,440.8 400.4,444.1 407.2,447.5 408.9,452.6 417.3,455.1 424.1,457.6 437.6,461.0 446.0,463.6 452.8,468.6 459.5,473.7 468.0,477.9 478.1,483.8 488.2,488.1 495.0,491.1 495.0,434.0" fill="#cd0000"/>
<polygon points="454.5,434.0 464.6,439.9 471.4,446.7 475.6,445.8 478.1,440.8 484.9,436.5 495.0,449.5 495.0,434.0" fill="#ff0000"/>
<polygon points="422.4,529.9 425.7,522.7 431.7,514.2 438.9,509.7 446.0,509.2 453.1,510.9 457.8,512.5 453.6,515.4 452.4,517.6 457.0,520.5 464.6,524.4 471.4,526.1 484.9,525.2 495.0,527.2 495.0,529.9" fill="#f08228"/>
<polygon points="424.9,529.9 427.8,523.5 433.3,515.9 439.6,511.7 446.0,511.4 451.1,512.5 449.4,515.9 451.1,519.3 457.8,523.2 464.6,526.6 471.4,528.3 495.0,529.9" fill="#ff5a00"/>
<polygon points="427.4,529.9 430.0,524.4 435.0,517.6 440.1,513.7 446.0,513.4 448.5,515.1 448.0,518.5 452.8,522.7 461.2,527.8 466.3,529.9" fill="#ff0000"/>
<polygon points="437.6,529.9 440.9,525.2 446.0,522.7 451.1,525.2 454.5,529.9" fill="#cd0000"/>
</g>
<clipPath id="c3_0"><rect x="495" y="50" width="125" height="96"/></clipPath>
<g clip-path="url(#c3_0)">
<rect x="495" y="50" width="125" height="96" fill="#00dc00"/>
<polygon points="533.9,92.2 620.0,92.2 620.0,145.9 514.4,145.9 515.3,129.4 520.3,126.0 535.5,125.2 538.1,120.9 533.9,114.2 530.5,107.4 533.9,99.0" fill="#a0e632"/>
<polygon points="614.9,95.6 618.3,95.6 618.3,109.1 615.8,107.4" fill="#e1f5a5"/>
<polygon points="609.9,124.3 618.3,120.9 618.3,145.9 607.3,145.9 611.6,136.1 609.0,129.4" fill="#e1f5a5"/>
</g>
<clipPath id="c3_1"><rect x="495" y="146" width="125" height="96"/></clipPath>
<g clip-path="url(#c3_1)">
<rect x="495" y="146" width="125" height="96" fill="#00dc00"/>
<polygon points="520.3,146.0 620.0,146.0 620.0,230.5 613.2,230.5 606.5,225.4 596.4,220.3 593.0,213.6 584.5,211.9 576.1,208.5 571.0,204.3 564.3,204.3 557.5,207.7 549.1,205.1 540.6,198.4 530.5,196.7 529.6,189.9 525.4,181.5 522.0,171.3 522.9,159.5 523.7,152.8" fill="#a0e632"/>
<polygon points="604.8,235.5 611.6,231.3 620.0,230.5 620.0,239.8 608.2,238.9" fill="#a0e632"/>
<polygon points="606.5,146.0 618.3,146.0 618.3,150.2 611.6,149.4" fill="#e1f5a5"/>
<polygon points="495.0,191.6 501.8,195.0 508.5,198.4 513.6,195.0 520.3,195.0 523.7,203.4 535.5,204.3 544.0,208.5 550.7,213.6 555.8,218.6 559.2,223.7 562.6,228.8 569.3,233.8 582.8,230.5 589.6,237.2 596.4,241.9 495.0,241.9" fill="#00b41e"/>
<polygon points="522.0,223.7 528.8,221.2 538.9,220.3 549.1,222.9 553.3,228.8 549.1,233.8 542.3,228.8 533.9,228.8 525.4,232.1 522.0,228.8" fill="#00dc00"/>
<polygon points="504.3,223.7 508.5,222.9 510.2,225.4 506.0,226.2" fill="#00dc00"/>
<polygon points="509.4,205.6 520.3,205.1 520.3,206.8 509.4,207.1" fill="#00dc00"/>
<polygon points="495.0,227.1 501.8,228.8 511.9,232.1 522.0,232.1 528.8,237.2 535.5,230.5 542.3,237.2 550.7,235.5 562.6,237.2 572.7,241.9 495.0,241.9" fill="#008c00"/>
<polygon points="499.2,211.9 503.4,211.0 502.6,216.1 500.1,218.6" fill="#008c00"/>
<polygon points="500.1,237.2 502.1,237.2 502.1,241.9 500.1,241.9" fill="#1e3cff"/>
<polygon points="596.4,241.9 603.1,239.8 609.9,241.9" fill="#00b41e"/>
</g>
<clipPath id="c3_2"><rect x="495" y="242" width="125" height="96"/></clipPath>
<g clip-path="url(#c3_2)">
<rect x="495" y="242" width="125" height="96" fill="#008c00"/>
<polygon points="589.6,242.0 620.0,242.0 620.0,282.5 613.2,275.8 604.8,270.7 598.0,265.6 591.3,264.0 587.9,258.0 586.2,250.4" fill="#00b41e"/>
<polygon points="603.1,247.1 611.6,246.2 613.2,255.5 609.9,264.0 603.1,267.3 606.5,258.9 604.8,252.1" fill="#00dc00"/>
<polygon points="533.0,245.4 538.1,243.7 541.5,247.1 538.9,251.3 534.7,250.4" fill="#00b41e"/>
<polygon points="517.0,271.6 521.2,269.0 525.4,272.4 522.0,274.9" fill="#00b41e"/>
<polygon points="538.1,289.3 542.3,287.6 545.7,294.4 541.5,296.1" fill="#00b41e"/>
<polygon points="495.0,292.7 500.1,297.7 501.8,306.2 500.1,309.6 508.5,309.6 515.3,312.9 513.6,323.1 510.2,329.8 511.9,337.9 495.0,337.9" fill="#00b41e"/>
<polygon points="495.0,312.9 501.8,313.8 506.8,318.0 505.1,329.8 501.8,337.9 495.0,337.9" fill="#00dc00"/>
<polygon points="495.0,321.4 498.4,323.1 500.1,329.8 496.7,337.9 495.0,337.9" fill="#a0e632"/>
<polygon points="495.0,299.4 497.0,301.1 496.4,303.7 495.0,303.7" fill="#f5eb64"/>
<polygon points="495.0,242.0 502.6,242.0 503.4,248.8 498.4,251.3 495.0,250.4" fill="#1e3cff"/>
<polygon points="525.4,257.2 533.9,256.4 540.6,258.0 545.7,253.0 550.7,249.6 557.5,251.3 559.2,255.5 569.3,254.7 570.2,258.0 559.2,260.6 550.7,264.0 542.3,267.3 539.8,275.8 538.1,284.2 533.0,289.3 527.1,287.6 522.0,283.4 530.5,271.6 528.8,265.6 524.6,262.3" fill="#1e3cff"/>
<polygon points="554.1,269.9 562.6,264.0 570.2,264.0 572.7,267.3 569.3,274.1 562.6,274.9 556.7,273.2" fill="#1e3cff"/>
<polygon points="504.3,283.4 511.9,272.4 517.0,275.8 520.3,281.7 515.3,287.6 509.4,287.6" fill="#1e3cff"/>
<polygon points="500.1,304.5 510.2,296.9 517.0,297.7 520.3,292.7 528.8,289.3 533.9,291.0 537.2,299.4 530.5,304.5 525.4,309.6 522.0,316.3 525.4,321.4 522.0,326.5 514.4,324.8 513.6,316.3 505.1,311.3" fill="#1e3cff"/>
<polygon points="533.9,321.4 537.2,312.9 542.3,306.2 549.1,301.1 554.1,300.3 555.8,292.7 562.6,289.3 569.3,288.5 574.4,281.7 579.5,284.2 582.8,289.3 579.5,294.4 586.2,291.0 591.3,285.9 596.4,280.9 603.1,280.0 613.2,283.4 620.0,287.6 620.0,337.9 533.9,337.9" fill="#1e3cff"/>
<polygon points="565.9,296.1 574.4,292.7 581.1,296.1 582.8,301.1 576.1,304.5 567.6,301.1" fill="#008c00"/>
<polygon points="574.4,314.6 579.5,311.3 582.0,316.3 579.5,323.1 574.4,326.5 571.9,321.4" fill="#008c00"/>
<polygon points="596.4,294.4 603.1,292.7 603.1,297.7 597.2,297.7" fill="#008c00"/>
<polygon points="596.4,304.5 603.1,302.8 605.6,309.6 601.4,312.9 596.4,309.6" fill="#008c00"/>
<polygon points="593.0,321.4 599.7,323.1 609.9,319.7 620.0,323.1 620.0,328.1 609.9,326.5 603.1,329.8 596.4,337.9 587.9,337.9 591.3,328.1" fill="#008c00"/>
<polygon points="549.9,309.6 554.1,307.0 558.3,309.6 557.5,318.0 554.1,326.5 553.3,337.9 545.7,337.9 547.4,326.5 550.7,318.0" fill="#008c00"/>
<polygon points="522.9,301.1 527.9,296.9 531.3,298.6 529.6,303.7 525.4,307.0 522.9,305.3" fill="#00a0f0"/>
<polygon points="539.8,317.2 544.0,309.6 549.1,305.3 550.7,308.7 547.4,316.3 543.1,322.2 539.8,321.4" fill="#00a0f0"/>
<polygon points="555.8,326.5 561.7,316.3 566.8,313.8 568.5,317.2 564.3,325.6 559.2,331.5 555.8,330.7" fill="#00a0f0"/>
<polygon points="576.1,331.5 581.1,324.8 587.1,323.1 587.1,327.3 582.8,334.1 577.8,337.4" fill="#00a0f0"/>
<polygon points="587.1,300.3 592.1,298.6 593.8,302.0 590.4,305.3 587.6,303.7" fill="#00a0f0"/>
<polygon points="611.6,302.8 615.8,302.0 617.5,309.6 616.6,316.3 613.2,318.0 611.6,309.6" fill="#00a0f0"/>
<polygon points="614.1,295.2 617.5,294.4 617.5,297.7 614.6,297.7" fill="#00a0f0"/>
<polygon points="511.9,277.5 515.3,276.6 516.1,280.0" fill="#00a0f0"/>
<polygon points="598.0,335.8 603.1,334.1 604.8,336.6 599.7,337.9" fill="#00a0f0"/>
<polygon points="587.1,266.5 593.0,265.6 593.0,270.7 588.8,269.9" fill="#1e3cff"/>
</g>
<clipPath id="c3_3"><rect x="495" y="338" width="125" height="96"/></clipPath>
<g clip-path="url(#c3_3)">
<rect x="495" y="338" width="125" height="96" fill="#00b41e"/>
<polygon points="530.5,338.0 550.7,338.0 545.7,343.1 537.2,345.6 531.3,343.1" fill="#008c00"/>
<polygon points="565.9,338.0 572.7,338.0 571.0,344.8 565.9,343.1" fill="#008c00"/>
<polygon points="569.3,338.0 582.8,338.0 579.5,344.8 574.4,346.4 571.0,343.1" fill="#1e3cff"/>
<polygon points="589.6,338.0 620.0,338.0 620.0,376.9 613.2,374.3 609.9,368.4 613.2,363.3 603.1,365.0 596.4,365.9 589.6,363.3 587.1,359.1 593.0,354.9 594.7,346.4 591.3,341.4" fill="#1e3cff"/>
<polygon points="594.7,339.7 603.1,338.0 606.5,344.8 603.1,351.5 596.4,353.2 593.8,346.4" fill="#00a0f0"/>
<polygon points="613.2,348.1 617.5,346.4 617.5,356.6 613.2,356.6" fill="#00a0f0"/>
<polygon points="591.3,359.1 597.2,358.3 597.2,360.8 591.6,361.3" fill="#a8d8e6"/>
<polygon points="605.6,340.5 613.2,338.8 615.8,342.2 609.9,344.8" fill="#008c00"/>
<polygon points="495.0,338.0 498.4,338.0 505.1,344.8 515.3,349.8 527.1,361.6 535.5,358.3 545.7,356.6 554.1,361.6 557.5,354.9 562.6,351.5 569.3,354.9 576.1,356.6 579.5,361.6 586.2,366.7 593.0,370.1 599.7,376.9 606.5,381.9 616.6,383.6 620.0,385.3 620.0,433.9 495.0,433.9" fill="#00dc00"/>
<polygon points="578.6,348.1 584.5,344.8 588.8,348.1 587.1,354.9 581.1,356.6" fill="#00dc00"/>
<polygon points="596.4,368.4 603.1,365.0 613.2,368.4 611.6,375.2 603.1,378.5 598.0,374.3" fill="#008c00"/>
<polygon points="596.4,380.2 604.8,377.7 613.2,381.9 620.0,384.5 620.0,388.7 611.6,393.7 604.8,388.7" fill="#00b41e"/>
<polygon points="495.0,338.0 497.5,338.0 505.1,346.4 517.0,352.4 528.8,363.3 538.9,360.0 545.7,363.3 549.1,370.1 557.5,368.4 560.0,360.0 565.9,356.6 574.4,359.1 579.5,363.3 581.1,370.1 586.2,373.5 591.3,378.5 594.7,387.0 603.1,388.7 609.9,395.4 608.2,403.9 613.2,408.9 620.0,412.3 620.0,433.9 495.0,433.9" fill="#a0e632"/>
<polygon points="604.8,410.6 609.9,407.3 616.6,412.3 620.0,414.0 620.0,419.1 609.9,419.1" fill="#a0e632"/>
<polygon points="495.0,340.5 503.4,348.1 513.6,354.0 523.7,356.6 528.8,365.0 540.6,363.3 545.7,367.6 550.7,376.9 562.6,380.2 567.6,376.9 576.1,378.5 584.5,381.9 591.3,387.0 593.0,395.4 598.0,402.2 604.8,405.6 603.1,412.3 606.5,417.4 613.2,425.8 620.0,429.2 620.0,433.9 495.0,433.9" fill="#e1f5a5"/>
<polygon points="495.0,343.1 503.4,350.7 513.6,356.6 523.7,365.0 528.8,368.4 538.9,367.6 542.3,373.5 552.4,380.2 557.5,387.0 565.9,388.7 571.0,383.6 577.8,381.9 586.2,387.0 589.6,392.1 586.2,397.1 581.1,400.5 579.5,408.9 586.2,410.6 594.7,414.0 598.0,422.5 604.8,429.2 611.6,433.9 495.0,433.9" fill="#f5eb64"/>
<polygon points="495.0,345.6 503.4,353.2 513.6,359.1 522.9,367.6 528.8,370.9 537.2,370.9 542.3,376.9 551.6,382.8 556.7,389.5 562.6,395.4 567.6,401.3 574.4,405.6 579.5,410.6 586.2,413.2 593.0,417.4 596.4,424.1 599.7,433.9 495.0,433.9" fill="#e6dc32"/>
<polygon points="569.3,388.7 576.1,383.6 584.5,384.5 588.8,389.5 584.5,394.6 577.8,395.4 572.7,392.9" fill="#e6dc32"/>
<polygon points="495.0,348.1 503.4,355.7 512.7,361.3 522.0,369.2 528.8,373.1 536.4,373.5 541.5,379.4 549.9,385.3 555.0,392.1 561.7,398.0 566.8,403.9 573.5,408.1 578.6,413.2 585.4,415.7 590.4,420.8 593.0,427.5 593.8,433.9 495.0,433.9" fill="#e6af2d"/>
<polygon points="577.8,387.8 582.8,385.3 587.1,388.7 582.8,392.1" fill="#e6af2d"/>
<polygon points="495.0,351.5 502.6,358.3 511.9,363.3 521.2,371.8 527.9,376.0 535.5,376.0 540.6,381.9 549.1,387.8 553.3,394.6 560.0,400.5 565.1,406.4 571.9,410.6 577.8,415.7 583.7,419.1 587.9,425.8 589.6,433.9 495.0,433.9" fill="#f08228"/>
<polygon points="495.0,360.0 502.6,363.3 511.0,366.7 520.3,374.3 527.1,378.5 535.5,381.1 540.6,387.0 547.4,392.1 552.4,398.8 557.5,404.7 563.4,409.8 569.3,414.9 576.1,419.1 581.1,425.8 584.5,433.9 495.0,433.9" fill="#ff5a00"/>
<polygon points="495.0,374.3 501.8,376.0 510.2,379.4 518.6,383.6 527.1,390.4 533.9,396.3 542.3,405.6 550.7,412.3 557.5,419.1 564.3,425.8 571.0,433.9 495.0,433.9" fill="#ff0000"/>
</g>
<clipPath id="c3_4"><rect x="495" y="434" width="125" height="96"/></clipPath>
<g clip-path="url(#c3_4)">
<rect x="495" y="434" width="125" height="96" fill="#ff0000"/>
<polygon points="495.0,449.2 500.1,452.6 504.3,459.3 501.8,467.8 500.1,476.2 508.5,481.3 517.0,486.4 525.4,483.0 533.9,483.0 542.3,484.7 545.7,477.9 552.4,478.8 562.6,481.3 563.4,489.7 560.9,501.6 562.6,513.4 569.3,520.1 574.4,529.9 525.4,529.9 518.6,521.8 510.2,513.4 501.8,504.9 495.0,501.6" fill="#cd0000"/>
<polygon points="571.9,434.0 576.1,439.1 579.5,449.2 582.8,459.3 579.5,467.8 578.6,477.9 574.4,486.4 572.7,496.5 571.9,504.9 576.1,511.7 579.5,518.5 582.8,525.2 584.5,529.9 620.0,529.9 620.0,434.0" fill="#ff5a00"/>
<polygon points="576.1,434.0 579.5,440.8 582.0,450.9 584.5,459.3 582.0,469.5 581.1,478.8 577.8,487.2 575.2,496.5 574.4,504.1 578.6,510.9 581.1,517.6 584.5,525.2 586.2,529.9 620.0,529.9 620.0,434.0" fill="#f08228"/>
<polygon points="582.8,434.0 582.8,442.4 584.5,450.9 587.1,459.3 584.5,469.5 587.1,477.9 582.8,484.7 579.5,491.4 576.9,499.9 581.1,506.6 585.4,511.7 587.1,520.1 584.5,526.1 587.9,529.9 620.0,529.9 620.0,434.0" fill="#e6af2d"/>
<polygon points="587.9,434.0 587.1,442.4 588.8,450.9 589.6,459.3 587.9,467.8 592.1,477.9 587.1,486.4 582.8,493.1 582.0,500.7 586.2,506.6 588.8,513.4 589.6,521.8 589.6,529.9 620.0,529.9 620.0,434.0" fill="#e6dc32"/>
<polygon points="590.4,434.0 590.4,444.1 593.0,452.6 594.7,461.0 593.0,469.5 594.7,476.2 591.3,484.7 587.1,492.3 586.2,499.9 589.6,506.6 592.1,515.1 593.0,523.5 593.0,529.9 620.0,529.9 620.0,434.0" fill="#f5eb64"/>
<polygon points="593.0,439.1 599.7,438.2 606.5,434.0 620.0,434.0 620.0,529.9 599.7,529.9 603.1,521.8 606.5,515.1 611.6,513.4 614.9,508.3 613.2,501.6 614.9,493.1 609.9,488.1 603.1,486.4 596.4,484.7 594.7,481.3 599.7,476.2 603.1,469.5 598.0,464.4 596.4,456.0 593.0,445.8" fill="#e1f5a5"/>
<polygon points="611.6,434.0 620.0,434.0 620.0,457.6 615.8,454.3 612.4,444.1" fill="#a0e632"/>
<polygon points="605.6,529.9 607.3,525.2 613.2,522.7 618.3,521.8 618.3,529.9" fill="#a0e632"/>
<polygon points="609.9,507.5 614.1,505.8 616.6,507.5 613.2,510.0" fill="#a0e632"/>
<polygon points="614.6,437.4 618.0,434.8 618.0,445.8 615.3,443.3" fill="#00dc00"/>
<polygon points="495.0,496.5 500.1,499.0 502.6,504.9 508.5,510.9 515.3,516.8 522.0,522.7 527.1,529.9 495.0,529.9" fill="#ff5a00"/>
<polygon points="495.0,499.0 499.2,501.6 500.9,506.6 506.8,512.5 513.6,518.5 520.3,524.4 524.6,528.6 525.4,529.9 495.0,529.9" fill="#f08228"/>
</g>
<clipPath id="c9_0"><rect x="520" y="290" width="98" height="78"/></clipPath>
<g clip-path="url(#c9_0)">
<rect x="520" y="290" width="98" height="78" fill="#1e3cff"/>
<polygon points="533.5,290.0 553.8,290.0 554.5,295.4 549.1,300.1 543.0,302.8 538.9,307.6 536.9,315.7 536.2,322.4 532.2,326.5 528.1,327.8 526.8,321.1 529.5,311.6 533.5,304.9 536.9,298.1" fill="#008c00"/>
<polygon points="520.0,290.0 524.1,290.0 524.7,296.8 520.0,299.5" fill="#008c00"/>
<polygon points="538.9,290.0 545.7,290.0 545.0,294.7 541.6,296.1" fill="#00b41e"/>
<polygon points="564.6,298.1 568.6,295.4 575.4,294.1 579.5,296.8 580.1,302.2 576.8,305.5 571.4,304.2 566.6,301.5" fill="#008c00"/>
<polygon points="550.4,310.3 553.8,307.6 557.2,308.9 555.8,315.7 553.1,322.4 550.4,329.2 549.7,335.9 545.7,337.3 543.0,334.6 545.0,327.8 547.7,319.7" fill="#008c00"/>
<polygon points="572.7,314.3 578.1,310.9 582.2,313.6 581.5,319.7 576.8,325.1 574.1,331.9 572.0,340.0 574.1,345.4 570.0,349.5 565.9,346.8 565.3,340.0 568.0,331.9 570.7,322.4" fill="#008c00"/>
<polygon points="588.2,334.6 593.0,327.8 599.7,323.1 606.5,320.4 613.2,321.8 614.6,327.2 607.8,330.5 601.1,330.5 595.7,333.2 591.6,340.0 590.3,344.1 586.2,344.1 585.5,338.6" fill="#008c00"/>
<polygon points="595.7,304.9 601.1,302.2 605.8,304.9 605.1,310.9 599.7,313.6 595.7,310.3" fill="#008c00"/>
<polygon points="595.9,294.7 602.7,293.4 603.8,296.5 598.4,297.8" fill="#008c00"/>
<polygon points="606.5,341.4 611.9,339.3 617.0,342.0 613.5,345.7 608.1,344.3" fill="#008c00"/>
<polygon points="523.4,300.8 527.4,297.4 531.5,298.8 529.5,304.2 525.4,306.9 523.0,304.9" fill="#00a0f0"/>
<polygon points="540.3,315.7 543.6,308.9 547.7,306.2 549.7,309.6 547.0,317.0 543.6,323.8 540.3,322.4" fill="#00a0f0"/>
<polygon points="556.5,325.1 560.5,318.4 565.9,314.3 568.4,317.0 565.9,325.1 560.5,331.9 556.5,330.5" fill="#00a0f0"/>
<polygon points="576.1,330.5 579.5,325.1 585.5,323.1 587.6,325.8 584.9,331.9 580.1,337.3 576.8,335.9" fill="#00a0f0"/>
<polygon points="594.3,340.0 597.0,335.9 602.4,333.9 606.5,336.6 604.5,344.1 600.4,349.5 597.0,348.1 595.7,344.1" fill="#00a0f0"/>
<polygon points="586.2,299.5 591.6,298.8 593.6,302.8 590.3,304.2 586.9,302.2" fill="#00a0f0"/>
<polygon points="611.9,303.5 614.6,302.2 617.3,308.9 617.3,318.4 613.9,317.0 611.9,310.3" fill="#00a0f0"/>
<polygon points="614.6,294.7 617.6,295.4 617.6,298.1 615.3,297.4" fill="#00a0f0"/>
<polygon points="590.3,358.9 595.7,354.9 602.4,353.5 603.1,357.6 599.7,361.6 593.0,363.0" fill="#00a0f0"/>
<polygon points="590.9,359.6 597.7,358.6 598.1,360.5 591.4,361.4" fill="#a8d8e6"/>
<polygon points="520.0,326.5 528.1,327.2 536.2,322.4 537.6,335.9 547.0,337.3 552.4,338.0 564.6,340.0 566.6,349.5 576.8,349.5 579.5,343.4 590.3,344.1 591.6,350.8 588.2,360.3 590.3,368.0 520.0,368.0" fill="#008c00"/>
<polygon points="520.0,331.9 525.4,329.9 529.5,335.3 531.5,342.0 536.2,344.7 544.3,342.0 551.1,340.7 559.2,342.0 564.6,339.3 567.3,347.4 570.7,350.8 575.4,350.1 578.1,344.7 583.5,343.8 587.6,346.1 590.3,351.5 587.6,360.3 589.6,368.0 520.0,368.0" fill="#00b41e"/>
<polygon points="520.0,346.8 525.4,344.1 532.2,346.8 537.6,344.1 545.7,344.1 553.8,342.7 560.5,344.1 564.6,342.0 565.9,348.1 568.6,353.5 574.1,354.9 578.1,353.5 579.5,360.3 584.9,363.0 587.6,368.0 520.0,368.0" fill="#00dc00"/>
<polygon points="581.5,348.1 586.2,345.4 588.9,348.8 584.9,353.5 581.5,352.2" fill="#00dc00"/>
<polygon points="520.0,348.1 525.4,350.8 528.1,357.6 532.2,358.9 537.6,357.6 541.6,358.9 547.0,360.3 553.8,363.0 557.8,360.3 560.5,356.9 565.9,356.2 574.1,357.6 578.1,361.6 582.2,368.0 520.0,368.0" fill="#a0e632"/>
<polygon points="520.0,356.2 524.1,357.6 528.1,361.6 534.9,363.0 543.0,363.6 547.0,368.0 520.0,368.0" fill="#e1f5a5"/>
<polygon points="520.0,360.3 522.7,361.6 525.4,368.0 520.0,368.0" fill="#f5eb64"/>
</g>
</g>
<g stroke="#7f7f7f" stroke-width="1" stroke-dasharray="2,4" fill="none" shape-rendering="crispEdges">
<line x1="136.5" y1="52" x2="136.5" y2="529"/>
<line x1="196.5" y1="52" x2="196.5" y2="529"/>
<line x1="256.5" y1="52" x2="256.5" y2="529"/>
<line x1="317.5" y1="52" x2="317.5" y2="529"/>
<line x1="377.5" y1="52" x2="377.5" y2="529"/>
<line x1="437.5" y1="52" x2="437.5" y2="529"/>
<line x1="498.5" y1="52" x2="498.5" y2="529"/>
<line x1="558.5" y1="52" x2="558.5" y2="529"/>
<line x1="121" y1="106.5" x2="618" y2="106.5"/>
<line x1="121" y1="180.5" x2="618" y2="180.5"/>
<line x1="121" y1="254.5" x2="618" y2="254.5"/>
<line x1="121" y1="327.5" x2="618" y2="327.5"/>
<line x1="121" y1="401.5" x2="618" y2="401.5"/>
<line x1="121" y1="475.5" x2="618" y2="475.5"/>
</g>
<g stroke="#696969" stroke-width="2.1" fill="none" stroke-linejoin="round" stroke-linecap="round">
<g clip-path="url(#c0_0)">
<polyline points="158.0,52.0 169.0,56.8 184.2,60.1 196.0,63.5 212.9,65.2 228.1,65.2 239.1,66.9 245.8,67.7"/>
<polyline points="239.1,66.9 238.2,70.3 229.8,75.3 221.4,81.2 219.7,86.3 223.0,88.9 231.5,90.5 234.9,93.9 228.1,99.0 225.6,105.7 231.5,108.3 232.3,114.2 231.5,120.9"/>
<polyline points="156.3,147.1 159.7,139.5 163.9,137.8 170.7,139.5 168.1,142.9 174.1,142.1 182.5,137.8 190.9,134.5 197.7,131.9 200.2,126.0 203.6,122.6 211.2,122.6 214.6,124.3 219.7,128.5 223.9,127.7 229.8,122.6 231.5,120.9 238.2,123.5 245.8,124.3"/>
<polyline points="238.2,123.8 241.6,129.4 240.8,136.1 236.6,139.5 228.1,142.1 229.8,147.1"/>
<polyline points="160.5,147.1 164.8,142.9 168.1,142.9"/>
</g>
<g clip-path="url(#c0_1)">
<polyline points="152.1,145.2 145.3,156.1 147.9,162.9 154.6,171.3 158.9,177.2 167.3,180.6 165.6,187.4 161.4,191.6 159.7,194.1 152.1,193.3 150.4,198.4 151.2,208.5 152.9,218.6 156.3,227.1 159.7,235.5 163.1,243.1"/>
<polyline points="153.8,154.4 156.3,150.2 161.4,147.7 166.5,145.2"/>
<polyline points="160.5,187.4 162.2,190.8 161.4,192.5"/>
<polyline points="227.3,145.2 230.6,156.1 232.3,166.3 238.2,174.7 243.3,181.5 245.8,184.9"/>
</g>
<g clip-path="url(#c0_2)">
<polyline points="163.1,241.2 169.0,247.1 177.4,253.8 184.2,255.5 190.9,259.7 199.4,265.6 206.1,271.6 214.6,277.5 221.4,281.7 228.1,282.2 233.2,285.9 236.6,294.4 239.9,302.8 244.2,311.3 245.8,316.3"/>
<polyline points="159.7,258.0 162.2,255.2 165.9,254.7 166.5,258.0 163.6,260.9 160.5,260.2 159.7,258.0"/>
</g>
<g clip-path="url(#c0_3)">
<polyline points="119.2,390.4 124.2,396.3 127.6,398.0 135.2,400.5 141.1,406.4 145.3,412.3 151.2,419.1 158.0,425.8 163.9,431.8 166.5,435.1"/>
</g>
<g clip-path="url(#c0_4)">
<polyline points="166.5,433.2 170.7,437.4 177.4,441.1 185.0,444.1 191.8,447.5 196.0,451.7 197.7,455.1 202.8,456.0 207.8,453.9 212.1,452.2 218.0,454.3 224.7,456.0 234.9,456.3 241.6,456.8 245.8,459.3"/>
</g>
<g clip-path="url(#c1_0)">
<polyline points="244.2,67.7 256.8,68.6 265.3,73.6 277.1,74.5 288.9,76.2 297.4,72.0 304.1,66.9 309.2,61.0 317.6,58.4 332.8,57.6 346.4,56.8 359.9,53.4 370.8,52.5"/>
<polyline points="370.8,87.2 363.2,88.0 356.5,89.7 353.1,93.9 354.0,99.0 359.9,101.5 360.7,109.1 359.9,116.7 354.8,118.4 346.4,117.6 339.6,120.9 334.5,126.0 337.9,128.5 337.1,132.8 334.5,136.1 333.7,147.1"/>
<polyline points="244.2,125.2 250.9,131.9 248.4,137.0 244.2,137.0"/>
<polyline points="248.4,146.6 261.9,144.6 278.8,143.8 283.9,139.5 290.6,131.1 294.0,132.8 297.4,137.8 302.4,142.1 309.2,143.8 317.6,142.9 324.4,145.4 334.5,144.6"/>
</g>
<g clip-path="url(#c1_1)">
<polyline points="244.2,185.7 250.9,195.8 255.1,191.6 261.9,184.0 266.1,178.9 267.0,173.0 271.2,166.3 272.9,157.8 276.2,153.6 285.5,156.1 289.8,161.2"/>
<polyline points="283.0,173.0 288.9,162.0 293.1,162.9 295.7,167.1 302.4,169.6 307.5,171.3 310.0,178.1 305.0,182.3 295.7,181.5 288.1,177.2 283.0,173.0"/>
<polyline points="310.0,178.1 311.7,186.5 310.0,195.0 312.6,201.7 317.6,209.3 319.3,215.3"/>
<polyline points="300.7,201.7 309.2,208.5 317.6,215.3 320.2,220.3 322.7,227.1 325.2,233.0 327.8,238.1 329.5,243.1"/>
<polyline points="312.6,207.7 319.3,211.9 324.4,215.3 327.8,220.3 332.8,225.4 337.1,229.6 348.0,233.8 339.6,231.3 335.4,230.5 332.8,234.7 326.1,234.7 324.4,232.1"/>
<polyline points="274.6,168.0 277.9,166.6 279.6,173.0 280.8,179.8 283.0,188.2 284.7,196.7 287.2,204.3 288.6,208.2 286.0,208.8 281.3,201.7 277.9,193.3 276.8,184.9 277.9,178.1 275.4,173.9 274.6,168.0"/>
<polyline points="277.9,201.7 278.8,208.5 283.9,214.4 288.1,218.6"/>
<polyline points="370.8,162.9 365.8,164.6 363.2,169.6 364.1,179.8 361.6,191.6 364.9,196.7 370.8,200.1"/>
<polyline points="319.3,145.2 326.1,146.8 329.5,145.2"/>
</g>
<g clip-path="url(#c1_2)">
<polyline points="328.6,241.2 334.5,247.9 343.0,255.5 349.7,261.4 356.5,267.3 363.2,271.6 370.8,273.2"/>
<polyline points="307.5,241.2 315.9,248.8 324.4,257.2 328.6,258.9 329.5,262.3 326.1,262.6 321.9,258.0"/>
<polyline points="244.2,314.6 247.5,321.4 250.1,329.8 252.6,339.1"/>
</g>
<g clip-path="url(#c1_3)">
<polyline points="251.8,337.2 254.3,346.4 260.2,356.6 268.6,366.7 277.1,374.3 285.5,381.9 293.1,386.1 299.1,388.7 300.7,392.9 309.2,399.7 317.6,401.3 321.9,405.6 329.5,407.3 339.6,407.6 349.7,406.9 359.9,406.4 370.8,405.6"/>
</g>
<g clip-path="url(#c1_4)">
<polyline points="244.2,459.3 250.1,466.9 255.1,477.1 257.7,482.1 261.9,485.5 270.3,487.2 277.9,488.9 283.9,492.3 284.7,495.7 280.5,499.0 278.8,502.4 283.9,503.3 292.3,500.7 301.6,498.2 306.7,501.6 310.9,506.6 314.3,512.5 316.8,517.6 315.9,523.5 312.6,531.1"/>
</g>
<g clip-path="url(#c2_0)">
<polyline points="397.9,51.4 401.2,58.4 406.3,65.2 410.5,69.4 420.7,73.6 428.3,78.7 430.8,83.8 435.9,88.9 442.6,90.5 447.7,93.1 452.8,99.8 453.6,105.7 459.5,110.5 471.4,110.0 475.6,113.3 478.1,118.4 488.2,121.8 495.8,122.1"/>
<polyline points="369.2,86.3 376.8,83.8 381.8,80.4 383.5,77.0 392.0,74.5 392.0,67.7 397.0,66.6 403.8,66.9 410.5,69.4"/>
</g>
<g clip-path="url(#c2_1)">
<polyline points="369.2,162.9 376.8,163.7 382.7,170.5 389.4,177.2 395.3,179.8 398.7,177.2 402.9,169.6 408.9,162.9 414.8,162.9 420.7,165.4 427.4,164.9 431.7,160.4 437.6,162.9 442.6,167.1 449.4,168.8 454.5,167.1 461.2,169.6 468.0,172.2 474.7,171.3 481.5,172.2 488.2,175.6 495.8,173.9"/>
<polyline points="369.2,200.9 375.1,201.7 378.4,210.2 383.5,216.9 387.7,225.4 388.6,232.1 386.0,238.1 392.0,239.8 397.0,243.1"/>
</g>
<g clip-path="url(#c2_2)">
<polyline points="395.3,241.2 399.6,247.1 406.3,251.3 411.4,253.8 415.6,258.9 420.7,264.8 425.7,270.7 430.8,277.5 436.7,284.2 441.8,289.3 447.7,291.8 452.8,292.7 453.6,299.4 457.8,307.0 464.6,312.9 471.4,318.0 476.4,323.1 478.1,327.3 476.4,331.5 471.4,331.5"/>
<polyline points="369.2,274.9 372.5,278.3 375.1,284.2 378.4,290.1 386.0,291.0 390.3,287.6 397.0,286.3 403.8,286.8 408.9,290.1 415.6,294.4 422.4,296.9 429.1,298.6 435.0,302.8 440.9,307.9 447.7,312.9 454.5,318.0 461.2,324.8 466.3,329.8 471.4,332.4 478.1,334.1 484.9,334.1 488.2,339.1"/>
<polyline points="402.1,301.1 405.5,298.6 417.3,299.4 427.4,301.1 430.8,304.5 427.4,307.0 415.6,307.0 405.5,306.2 402.1,301.1"/>
<polyline points="400.4,312.9 405.5,311.3 413.9,312.9 425.7,314.6 437.6,316.3 444.3,317.2 444.3,319.4 434.2,318.9 420.7,318.0 408.9,316.3 402.1,315.5 400.4,312.9"/>
<polyline points="380.1,323.1 384.4,321.1 390.3,321.4 392.8,323.9 389.4,326.5 383.5,327.3 380.5,325.6 380.1,323.1"/>
<polyline points="415.6,328.1 420.7,327.3 429.1,330.7 437.6,329.8 444.3,329.0 446.9,331.5 437.6,334.1 429.1,334.9 420.7,332.4 415.6,328.1"/>
<polyline points="437.6,324.8 444.3,323.9 454.5,326.5 464.6,329.8 471.4,333.2 478.1,334.9"/>
</g>
<g clip-path="url(#c2_3)">
<polyline points="457.0,343.9 458.7,342.2 464.6,343.1 474.7,345.6 481.5,347.3 482.3,349.8 474.7,348.5 464.6,346.1 457.8,345.1 457.0,343.9"/>
<polyline points="464.6,337.2 474.7,340.5 484.9,343.1 491.6,341.4 488.2,337.2"/>
<polyline points="491.6,341.4 495.8,343.9"/>
<polyline points="369.2,405.2 376.8,404.2 383.5,405.6 387.7,409.8 388.9,415.7 385.2,420.8 379.3,425.0 373.4,427.5 370.0,430.1 369.2,434.3"/>
</g>
<g clip-path="url(#c2_4)">
<polyline points="369.2,434.0 376.8,442.4 386.9,448.4 398.7,453.4 410.5,459.3 424.1,464.4 437.6,468.6 446.0,472.0 454.5,477.9 464.6,484.7 474.7,490.6 484.9,494.8 495.8,499.0"/>
<polyline points="423.2,531.1 426.6,523.5 432.5,515.1 439.3,510.9 446.0,510.4 452.8,511.7 457.0,513.1 452.8,515.1 451.1,517.6 456.1,521.0 464.6,525.2 471.4,526.9 484.9,526.1 495.8,528.6"/>
</g>
<g clip-path="url(#c3_0)">
<polyline points="494.2,122.1 510.2,122.6 520.3,124.3 528.8,120.9 535.5,116.7 542.3,112.8 547.4,114.2 559.2,108.3 563.4,104.9 567.6,106.6 574.4,106.6 582.8,102.4 588.8,96.5 592.1,93.1"/>
<polyline points="603.1,94.3 609.9,94.8 618.3,93.9"/>
<polyline points="547.4,114.2 554.1,120.9 555.8,126.9 555.0,131.1 551.6,134.5 553.3,139.5 558.3,140.4 562.6,141.2 563.4,143.8 559.2,144.6 558.3,147.1"/>
</g>
<g clip-path="url(#c3_1)">
<polyline points="494.2,173.0 501.8,172.2 510.2,173.0 511.9,170.5 520.3,171.3 528.8,172.2 535.5,173.9 542.3,178.1 545.7,182.3 544.0,185.7 549.1,189.9 554.1,190.8 559.2,189.9 562.6,187.4 569.3,186.5 576.1,185.7 581.1,187.4 579.5,195.0 576.1,203.4 571.0,210.2 565.9,214.4 565.1,220.3 564.3,227.1 567.6,232.1 576.1,235.5 584.5,243.1"/>
<polyline points="559.2,189.9 559.2,185.7 562.6,181.5 564.3,176.4 565.1,171.3 567.6,163.7 571.0,163.7 574.4,166.3 582.8,166.3 583.7,162.9 576.1,162.0 569.3,159.5 562.6,156.1 557.5,151.9 557.5,145.2"/>
</g>
<g clip-path="url(#c3_2)">
<polyline points="582.8,241.2 587.1,245.4 594.7,247.9 596.4,252.1 591.3,256.4 582.8,257.2 576.1,253.8 572.7,253.0 574.4,258.0 579.5,262.3 586.2,267.3 588.8,274.1 587.9,281.7 582.8,284.2 576.1,286.8 569.3,287.6 559.2,285.9 555.0,290.1 557.5,294.4 561.7,297.7 563.4,303.7 560.9,308.7 557.5,307.0 555.0,302.0 551.6,301.1 545.7,303.7 539.8,309.6 537.2,316.3 536.4,323.1 528.8,326.5 526.2,333.2 525.4,339.1"/>
<polyline points="569.3,287.6 572.7,291.8 579.5,296.1 586.2,301.1 591.3,307.0 596.4,312.9 604.8,316.3 613.2,318.9 620.8,321.4"/>
</g>
<g clip-path="url(#c3_3)">
<polyline points="494.2,343.9 501.8,348.1 511.9,354.0 520.3,355.7 525.4,360.8 526.2,366.7 529.6,370.9 535.5,371.8 540.6,374.3 547.4,379.4 554.1,381.9 560.0,388.7 565.1,395.4 567.6,402.2 572.7,406.4 579.5,409.8 587.1,411.5 593.8,414.0 594.7,420.8 593.8,427.5 591.3,435.1"/>
<polyline points="524.6,337.2 527.1,342.2 532.2,349.0 531.3,354.0 526.2,359.1 525.4,361.6"/>
<polyline points="529.6,370.9 531.3,367.6 538.9,367.6 540.6,370.1 538.1,371.8"/>
<polyline points="579.5,409.8 580.3,402.2 581.1,393.7 576.1,388.7 577.8,383.6 582.8,376.0 589.6,366.7 594.7,358.3 598.0,353.2 603.1,352.4 604.0,358.3 606.5,363.3 611.6,363.3 620.8,360.0"/>
<polyline points="616.6,346.4 617.5,349.8"/>
</g>
<g clip-path="url(#c3_4)">
<polyline points="588.8,433.2 585.4,440.8 584.5,450.0 587.9,453.4 588.8,459.3 585.4,467.8 586.2,474.5 590.4,479.6 588.8,482.1 583.7,483.8 581.1,491.4 577.8,500.7 581.1,505.8 586.2,510.0 587.9,516.8 586.2,522.7 582.8,523.5 578.6,516.8 576.1,517.6 579.5,523.5 582.8,531.1"/>
<polyline points="494.2,499.0 499.2,501.6 500.9,506.6 506.8,512.5 513.6,518.5 520.3,524.4 524.6,528.6 526.2,531.1"/>
</g>
</g>
<g shape-rendering="crispEdges">
<rect x="517" y="51" width="102" height="41.5" fill="#fff" stroke="#000" stroke-width="1"/>
<rect x="120" y="465.5" width="136.5" height="64.5" fill="#fff" stroke="#000" stroke-width="1"/>
<rect x="120" y="51" width="499" height="479" fill="none" stroke="#000" stroke-width="2"/>
<line x1="136.5" y1="530" x2="136.5" y2="534" stroke="#000" stroke-width="1"/>
<line x1="196.5" y1="530" x2="196.5" y2="534" stroke="#000" stroke-width="1"/>
<line x1="256.5" y1="530" x2="256.5" y2="534" stroke="#000" stroke-width="1"/>
<line x1="317.5" y1="530" x2="317.5" y2="534" stroke="#000" stroke-width="1"/>
<line x1="377.5" y1="530" x2="377.5" y2="534" stroke="#000" stroke-width="1"/>
<line x1="437.5" y1="530" x2="437.5" y2="534" stroke="#000" stroke-width="1"/>
<line x1="498.5" y1="530" x2="498.5" y2="534" stroke="#000" stroke-width="1"/>
<line x1="558.5" y1="530" x2="558.5" y2="534" stroke="#000" stroke-width="1"/>
<line x1="619.0" y1="530" x2="619.0" y2="534" stroke="#000" stroke-width="1"/>
<line x1="117" y1="106.5" x2="120" y2="106.5" stroke="#000" stroke-width="1"/>
<line x1="117" y1="180.5" x2="120" y2="180.5" stroke="#000" stroke-width="1"/>
<line x1="117" y1="254.5" x2="120" y2="254.5" stroke="#000" stroke-width="1"/>
<line x1="117" y1="327.5" x2="120" y2="327.5" stroke="#000" stroke-width="1"/>
<line x1="117" y1="401.5" x2="120" y2="401.5" stroke="#000" stroke-width="1"/>
<line x1="117" y1="475.5" x2="120" y2="475.5" stroke="#000" stroke-width="1"/>
<rect x="652" y="77.00" width="15" height="18.95" fill="#ffefdb"/>
<rect x="652" y="95.65" width="15" height="18.95" fill="#d8bfd8"/>
<rect x="652" y="114.30" width="15" height="18.95" fill="#dda0dd"/>
<rect x="652" y="132.95" width="15" height="18.95" fill="#ba55d3"/>
<rect x="652" y="151.60" width="15" height="18.95" fill="#8b008b"/>
<rect x="652" y="170.25" width="15" height="18.95" fill="#9b0000"/>
<rect x="652" y="188.90" width="15" height="18.95" fill="#cd0000"/>
<rect x="652" y="207.55" width="15" height="18.95" fill="#ff0000"/>
<rect x="652" y="226.20" width="15" height="18.95" fill="#ff5a00"/>
<rect x="652" y="244.85" width="15" height="18.95" fill="#f08228"/>
<rect x="652" y="263.50" width="15" height="18.95" fill="#e6af2d"/>
<rect x="652" y="282.15" width="15" height="18.95" fill="#e6dc32"/>
<rect x="652" y="300.80" width="15" height="18.95" fill="#f5eb64"/>
<rect x="652" y="319.45" width="15" height="18.95" fill="#e1f5a5"/>
<rect x="652" y="338.10" width="15" height="18.95" fill="#a0e632"/>
<rect x="652" y="356.75" width="15" height="18.95" fill="#00dc00"/>
<rect x="652" y="375.40" width="15" height="18.95" fill="#00b41e"/>
<rect x="652" y="394.05" width="15" height="18.95" fill="#008c00"/>
<rect x="652" y="412.70" width="15" height="18.95" fill="#1e3cff"/>
<rect x="652" y="431.35" width="15" height="18.95" fill="#00a0ff"/>
<rect x="652" y="450.00" width="15" height="18.95" fill="#add8e6"/>
<rect x="652" y="468.65" width="15" height="18.95" fill="#f0ffff"/>
</g>
<g style="filter:saturate(1)">
<text x="670.5" y="81.5" font-size="12.3" textLength="14.6" lengthAdjust="spacing">29</text>
<text x="670.5" y="100.2" font-size="12.3" textLength="14.6" lengthAdjust="spacing">27</text>
<text x="670.5" y="118.8" font-size="12.3" textLength="14.6" lengthAdjust="spacing">25</text>
<text x="670.5" y="137.4" font-size="12.3" textLength="14.6" lengthAdjust="spacing">23</text>
<text x="670.5" y="156.1" font-size="12.3" textLength="14.6" lengthAdjust="spacing">21</text>
<text x="670.5" y="174.8" font-size="12.3" textLength="14.6" lengthAdjust="spacing">19</text>
<text x="670.5" y="193.4" font-size="12.3" textLength="14.6" lengthAdjust="spacing">17</text>
<text x="670.5" y="212.0" font-size="12.3" textLength="14.6" lengthAdjust="spacing">15</text>
<text x="670.5" y="230.7" font-size="12.3" textLength="14.6" lengthAdjust="spacing">13</text>
<text x="670.5" y="249.3" font-size="12.3" textLength="14.6" lengthAdjust="spacing">11</text>
<text x="670.5" y="268.0" font-size="12.3">9</text>
<text x="670.5" y="286.6" font-size="12.3">7</text>
<text x="670.5" y="305.3" font-size="12.3">5</text>
<text x="670.5" y="323.9" font-size="12.3">3</text>
<text x="670.5" y="342.6" font-size="12.3">1</text>
<line x1="671" y1="357.2" x2="678.7" y2="357.2" stroke="#000" stroke-width="1" shape-rendering="crispEdges"/>
<text x="681.0" y="361.2" font-size="12.3">1</text>
<line x1="671" y1="375.9" x2="678.7" y2="375.9" stroke="#000" stroke-width="1" shape-rendering="crispEdges"/>
<text x="681.0" y="379.9" font-size="12.3">3</text>
<line x1="671" y1="394.5" x2="678.7" y2="394.5" stroke="#000" stroke-width="1" shape-rendering="crispEdges"/>
<text x="681.0" y="398.5" font-size="12.3">5</text>
<line x1="671" y1="413.2" x2="678.7" y2="413.2" stroke="#000" stroke-width="1" shape-rendering="crispEdges"/>
<text x="681.0" y="417.2" font-size="12.3">7</text>
<line x1="671" y1="431.8" x2="678.7" y2="431.8" stroke="#000" stroke-width="1" shape-rendering="crispEdges"/>
<text x="681.0" y="435.8" font-size="12.3">9</text>
<line x1="671" y1="450.5" x2="678.7" y2="450.5" stroke="#000" stroke-width="1" shape-rendering="crispEdges"/>
<text x="681.0" y="454.5" font-size="12.3" textLength="14.4" lengthAdjust="spacing">11</text>
<line x1="671" y1="469.1" x2="678.7" y2="469.1" stroke="#000" stroke-width="1" shape-rendering="crispEdges"/>
<text x="681.0" y="473.1" font-size="12.3" textLength="14.4" lengthAdjust="spacing">13</text>
<line x1="671" y1="487.8" x2="678.7" y2="487.8" stroke="#000" stroke-width="1" shape-rendering="crispEdges"/>
<text x="681.0" y="491.8" font-size="12.3" textLength="14.4" lengthAdjust="spacing">15</text>
<line x1="671" y1="506.4" x2="678.7" y2="506.4" stroke="#000" stroke-width="1" shape-rendering="crispEdges"/>
<text x="681.0" y="510.4" font-size="12.3" textLength="14.4" lengthAdjust="spacing">17</text>
<text x="664.5" y="529.0" font-size="10" textLength="35.0" lengthAdjust="spacing">(st. C)</text>
<text x="170.3" y="40.0" font-size="15" textLength="97.3" lengthAdjust="spacing">Temperatura</text>
<text x="277.3" y="40.0" font-size="15" textLength="43.3" lengthAdjust="spacing">zraka</text>
<text x="332.0" y="40.0" font-size="15" textLength="17.0" lengthAdjust="spacing">na</text>
<text x="358.8" y="40.0" font-size="15" textLength="21.0" lengthAdjust="spacing">2m</text>
<text x="391.5" y="40.0" font-size="15" textLength="8.5" lengthAdjust="spacingAndGlyphs">u</text>
<text x="411.7" y="40.0" font-size="15" textLength="16.3" lengthAdjust="spacingAndGlyphs">21</text>
<text x="441.2" y="40.0" font-size="15" textLength="28.1" lengthAdjust="spacingAndGlyphs">UTC</text>
<text x="478.5" y="40.0" font-size="15" textLength="89.4" lengthAdjust="spacing">08DEC2011</text>
<text x="128.8" y="544.0" font-size="11.5" textLength="15.4" lengthAdjust="spacingAndGlyphs">12E</text>
<text x="188.8" y="544.0" font-size="11.5" textLength="15.4" lengthAdjust="spacingAndGlyphs">13E</text>
<text x="248.8" y="544.0" font-size="11.5" textLength="15.4" lengthAdjust="spacingAndGlyphs">14E</text>
<text x="309.8" y="544.0" font-size="11.5" textLength="15.4" lengthAdjust="spacingAndGlyphs">15E</text>
<text x="369.8" y="544.0" font-size="11.5" textLength="15.4" lengthAdjust="spacingAndGlyphs">16E</text>
<text x="429.8" y="544.0" font-size="11.5" textLength="15.4" lengthAdjust="spacingAndGlyphs">17E</text>
<text x="490.8" y="544.0" font-size="11.5" textLength="15.4" lengthAdjust="spacingAndGlyphs">18E</text>
<text x="550.8" y="544.0" font-size="11.5" textLength="15.4" lengthAdjust="spacingAndGlyphs">19E</text>
<text x="611.3" y="544.0" font-size="11.5" textLength="15.4" lengthAdjust="spacingAndGlyphs">20E</text>
<text x="97.2" y="110.8" font-size="11.5" textLength="17.2" lengthAdjust="spacingAndGlyphs">46N</text>
<text x="97.2" y="184.8" font-size="11.5" textLength="17.2" lengthAdjust="spacingAndGlyphs">45N</text>
<text x="97.2" y="258.8" font-size="11.5" textLength="17.2" lengthAdjust="spacingAndGlyphs">44N</text>
<text x="97.2" y="331.8" font-size="11.5" textLength="17.2" lengthAdjust="spacingAndGlyphs">43N</text>
<text x="97.2" y="405.8" font-size="11.5" textLength="17.2" lengthAdjust="spacingAndGlyphs">42N</text>
<text x="97.2" y="479.8" font-size="11.5" textLength="17.2" lengthAdjust="spacingAndGlyphs">41N</text>
<circle cx="536.7" cy="71.7" r="6.7" fill="none" stroke="#1e3cff" stroke-width="1.1"/>
<text x="536.7" y="75.3" font-size="10" font-weight="bold" text-anchor="middle" style="fill:#1e3cff">C</text>
<text x="548.5" y="78.3" font-size="19" textLength="57" lengthAdjust="spacing" style="fill:#1e3cff;stroke:#1e3cff;stroke-width:0.5px">DHMZ</text>
<text x="148.2" y="482.8" font-size="10" textLength="100.0" lengthAdjust="spacing">Temperatura zraka</text>
<text x="173.0" y="496.8" font-size="10" textLength="75.8" lengthAdjust="spacing">na 2m (st. C)</text>
<text x="141.0" y="510.8" font-size="10" textLength="106.0" lengthAdjust="spacing">start 00z08dec2011</text>
<text x="129.4" y="523.9" font-size="10" textLength="117.6" lengthAdjust="spacing">termin 21Z08DEC2011</text>
</g>
</svg>
</body></html>
